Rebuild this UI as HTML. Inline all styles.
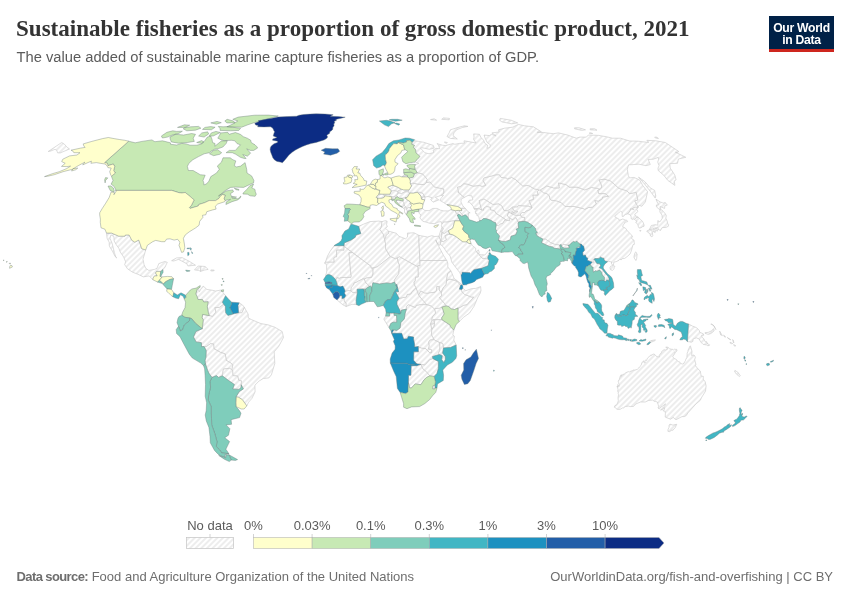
<!DOCTYPE html>
<html><head><meta charset="utf-8"><title>Sustainable fisheries as a proportion of gross domestic product, 2021</title>
<style>
html,body{margin:0;padding:0;background:#fff;}
body{width:850px;height:600px;position:relative;overflow:hidden;font-family:"Liberation Sans",sans-serif;}
#title{position:absolute;left:16px;top:14.1px;margin:0;font-family:"Liberation Serif",serif;font-weight:bold;font-size:23.7px;line-height:28px;color:#333;white-space:nowrap;transform-origin:0 50%;transform:scaleX(0.973);}
#sub{position:absolute;left:16.5px;top:47.3px;margin:0;font-size:14.73px;line-height:20px;color:#5b5b5b;white-space:nowrap;transform-origin:0 50%;}
#logo{position:absolute;left:769px;top:16px;width:65px;height:33px;background:#002147;border-bottom:3px solid #ce261e;color:#fff;font-weight:bold;font-size:12.2px;line-height:12px;text-align:center;letter-spacing:-0.3px;}
#logo span{display:block;}
#logo span:first-child{margin-top:5.5px;}
#src{position:absolute;left:16.5px;top:568.7px;font-size:13px;line-height:16px;color:#6e6e6e;white-space:nowrap;transform-origin:0 50%;}
#src b{font-weight:bold;letter-spacing:-0.6px;}
#url{position:absolute;right:17px;top:568.7px;font-size:13px;line-height:16px;color:#6e6e6e;white-space:nowrap;transform-origin:100% 50%;}
svg{position:absolute;left:0;top:0;}
svg text{font-family:"Liberation Sans",sans-serif;font-size:13px;fill:#5b5b5b;}
</style></head><body>
<h1 id="title">Sustainable fisheries as a proportion of gross domestic product, 2021</h1>
<p id="sub">The value added of sustainable marine capture fisheries as a proportion of GDP.</p>
<div id="logo"><span>Our World</span><span>in Data</span></div>
<div id="src"><b>Data source:</b> Food and Agriculture Organization of the United Nations</div>
<div id="url">OurWorldinData.org/fish-and-overfishing | CC BY</div>
<svg width="850" height="600" viewBox="0 0 850 600">
<defs><pattern id="h" width="4" height="4" patternUnits="userSpaceOnUse" patternTransform="rotate(45)"><rect width="4" height="4" fill="#fff"/><line x1="2" y1="0" x2="2" y2="4" stroke="#ccc" stroke-width="0.7"/></pattern></defs>
<g id="nodata" fill="url(#h)" stroke="#c8c8c8" stroke-width="0.6" stroke-linejoin="round">
<path d="M334.1 245.7L344.1 245.7L344.0 250.0L336.6 250.0L336.5 256.6L334.2 257.9L334.1 262.3L325.1 262.3L324.9 263.6L327.5 256.0L330.1 251.3Z"/>
<path d="M358.7 226.3L363.5 224.2L370.0 221.6L378.6 221.1L382.0 221.6L381.3 227.3L379.9 229.4L383.3 234.1L384.5 238.8L385.5 243.5L385.6 248.7L390.3 256.6L377.1 267.0L371.0 268.3L370.8 266.2L366.2 262.8L352.7 252.6L344.1 246.6L344.2 243.0L351.3 239.9L355.3 237.2L355.8 235.2L360.9 233.6L359.8 230.5Z"/>
<path d="M382.0 221.6L385.5 220.6L387.2 221.3L386.5 224.7L387.4 226.5L385.5 228.4L388.7 231.2L388.8 233.3L386.2 235.2L385.6 238.3L384.5 238.8L383.3 234.1L379.9 229.4L381.3 227.3Z"/>
<path d="M388.7 231.2L396.4 233.3L398.8 236.2L405.5 238.8L407.6 237.0L407.4 233.1L414.0 232.8L419.0 235.4L419.0 241.7L419.9 260.5L420.1 265.7L417.9 265.7L417.9 267.0L399.5 256.8L397.3 257.9L395.5 258.9L390.3 256.6L385.6 248.7L385.5 243.5L384.5 238.8L385.6 238.3L386.2 235.2L388.8 233.3Z"/>
<path d="M419.0 235.4L427.5 237.0L431.8 235.7L434.7 236.5L438.9 236.2L440.9 240.9L439.9 245.3L437.3 243.5L435.7 239.9L438.1 245.1L443.6 255.5L446.8 260.5L419.9 260.5L419.0 241.7Z"/>
<path d="M419.9 260.5L446.8 260.5L447.8 263.1L447.8 267.0L451.0 270.9L447.7 273.5L446.8 278.7L446.7 280.3L446.1 284.8L443.7 287.1L442.2 290.2L441.3 293.1L439.2 290.0L439.1 286.1L438.4 286.6L436.8 286.6L436.5 290.5L435.1 292.3L430.1 292.8L427.8 293.4L424.4 293.1L420.9 291.0L418.6 295.2L417.4 291.8L416.0 287.9L414.3 284.8L413.8 281.9L414.9 281.4L415.7 276.9L418.2 276.9L417.9 267.0L417.9 265.7L420.1 265.7Z"/>
<path d="M418.6 295.2L420.9 291.0L424.4 293.1L427.8 293.4L430.1 292.8L435.1 292.3L436.5 290.5L436.8 286.6L438.4 286.6L439.1 286.1L439.2 290.0L441.3 293.1L441.9 295.7L439.4 297.5L444.8 303.8L446.2 305.9L441.8 307.1L439.5 308.3L434.9 308.6L434.5 309.2L431.4 306.2L426.6 304.6L421.7 299.1Z"/>
<path d="M446.7 280.3L450.0 279.0L452.8 279.8L457.0 281.1L460.6 285.3L459.4 289.2L461.9 289.4L461.5 290.8L463.4 293.4L464.6 294.4L471.5 297.0L473.8 297.0L467.1 304.8L463.7 305.4L460.3 307.4L458.0 308.0L454.5 309.5L451.3 308.9L448.5 306.5L446.2 305.9L444.8 303.8L439.4 297.5L441.9 295.7L441.3 293.1L442.2 290.2L443.7 287.1L446.1 284.8Z"/>
<path d="M446.7 280.3L446.8 278.7L447.7 273.5L451.0 270.9L454.1 278.5L457.7 281.1L462.2 284.8L460.6 285.3L457.0 281.1L452.8 279.8L450.0 279.0Z"/>
<path d="M461.9 289.4L462.8 287.9L465.6 290.8L471.3 288.7L475.8 288.4L480.6 286.6L481.0 290.5L480.2 293.4L478.0 297.0L474.1 306.2L469.5 313.1L463.8 317.1L459.4 321.4L458.0 319.3L458.0 308.0L460.3 307.4L463.7 305.4L467.1 304.8L473.8 297.0L471.5 297.0L464.6 294.4L463.4 293.4L461.5 290.8Z"/>
<path d="M434.5 309.2L434.9 308.6L439.5 308.3L441.8 307.1L443.0 309.8L444.2 313.9L443.0 315.9L441.7 317.8L441.9 319.7L433.8 319.7L431.7 320.6L431.8 318.7L432.2 316.9L435.6 313.1Z"/>
<path d="M433.8 319.7L441.9 319.7L450.1 325.1L450.4 326.6L453.8 330.1L452.8 334.9L454.4 336.2L453.8 340.1L456.2 345.0L450.6 347.4L443.5 347.9L442.7 343.5L439.3 342.4L434.7 340.3L434.1 339.6L431.4 334.9L431.7 329.6L433.8 326.6L434.5 323.3Z"/>
<path d="M431.7 320.6L433.8 319.7L434.5 323.3L432.4 324.2L430.3 323.9Z"/>
<path d="M430.3 323.9L432.4 324.2L434.5 323.3L433.8 326.6L431.7 329.6L430.8 325.1Z"/>
<path d="M391.6 333.3L392.0 333.0L393.7 329.9L396.7 330.4L400.1 328.1L400.8 322.7L404.3 318.9L405.2 313.1L406.4 309.2L406.3 306.5L408.4 304.6L415.3 307.4L416.2 305.4L419.9 304.6L421.8 304.6L426.6 304.6L431.4 306.2L434.5 309.2L435.6 313.1L432.2 316.9L431.8 318.7L431.7 320.6L430.3 323.9L430.8 325.1L431.7 329.6L431.4 334.9L434.1 339.6L429.9 340.1L428.7 342.2L429.3 345.8L428.6 349.0L431.8 349.7L431.7 352.9L429.8 352.9L425.8 348.7L421.5 348.2L419.4 347.4L418.3 346.4L414.6 347.1L414.5 343.7L413.6 339.3L413.6 337.0L408.4 336.2L407.2 338.8L403.7 339.0L401.7 333.3L393.4 333.3Z"/>
<path d="M408.4 382.6L408.6 375.3L410.9 375.3L411.2 365.7L416.9 365.7L418.7 365.1L420.8 364.4L422.9 368.8L426.2 371.4L429.8 375.8L426.6 377.4L424.0 379.8L420.9 384.7L415.1 383.9L411.5 387.9L409.7 387.9Z"/>
<path d="M421.0 364.4L424.9 364.8L429.4 359.7L432.8 358.6L434.9 359.7L438.4 361.5L438.3 368.8L436.9 373.5L434.1 376.4L429.8 375.8L426.2 371.4L422.9 368.8Z"/>
<path d="M413.6 360.2L413.8 351.8L418.4 351.8L418.3 346.4L419.4 347.4L421.5 348.2L425.8 348.7L429.8 352.9L431.7 352.9L431.8 349.7L428.6 349.0L429.3 345.8L428.7 342.2L429.9 340.1L434.1 339.6L434.7 340.3L439.3 342.4L439.9 346.1L439.8 350.5L438.3 353.4L439.4 354.4L432.5 356.5L432.8 358.6L429.4 359.7L424.9 364.8L421.0 364.4L416.7 363.8Z"/>
<path d="M439.3 342.4L442.7 343.5L443.5 347.9L442.6 353.1L445.3 356.5L445.3 359.7L443.8 362.5L441.7 359.7L442.3 355.7L439.4 354.4L438.3 353.4L439.8 350.5L439.9 346.1Z"/>
<path d="M423.3 395.2L426.8 392.8L428.7 394.9L426.5 397.5L424.3 397.5Z"/>
<path d="M432.9 385.8L434.9 385.2L435.2 387.9L434.9 388.9L432.7 388.9Z"/>
<path d="M324.9 263.1L325.4 262.2L334.3 262.2L333.9 258.5L334.5 257.1L336.6 256.9L336.7 250.2L344.0 250.3L344.1 246.4L352.5 252.7L349.0 252.7L350.0 264.0L351.0 275.3L351.4 275.6L350.9 277.4L341.7 277.5L339.2 278.4L337.6 277.7L336.9 277.7L336.5 279.3L335.7 279.7L334.2 278.0L332.9 276.0L331.4 275.4L329.0 274.6L326.8 274.9L326.0 275.8L325.8 274.4L326.5 273.1L326.8 270.6L326.6 268.0L326.6 265.5L326.1 264.2Z"/>
<path d="M352.5 252.7L366.2 262.8L370.8 266.2L371.0 268.3L373.0 268.0L373.1 274.0L371.7 277.4L366.7 278.0L364.4 279.0L362.8 279.0L358.9 280.8L356.9 282.1L354.3 282.9L353.4 285.3L351.4 287.1L350.9 290.8L349.3 290.5L345.1 291.3L344.5 289.2L342.9 286.1L340.1 286.8L337.2 285.5L337.2 284.0L335.7 279.7L336.5 279.3L336.9 277.7L339.2 278.4L341.7 277.5L350.9 277.4L351.4 275.6L351.0 275.3L350.0 264.0L349.0 252.7Z"/>
<path d="M337.0 299.9L339.1 297.5L339.8 295.7L342.1 295.7L341.9 298.6L344.2 298.1L344.4 301.5L346.2 302.8L346.2 306.5L342.8 304.8Z"/>
<path d="M346.2 306.5L346.2 302.8L344.4 301.5L344.2 298.1L345.8 295.7L344.4 293.1L345.1 291.3L349.3 290.5L350.9 290.8L352.7 292.3L357.1 292.8L357.3 293.1L356.1 300.2L357.1 304.8L356.4 304.6L352.0 304.3Z"/>
<path d="M350.9 290.8L351.4 287.1L353.4 285.3L354.3 282.9L356.9 282.1L358.9 280.8L362.8 279.0L364.4 279.0L365.8 282.9L368.5 285.0L369.0 286.8L365.6 289.2L363.3 288.9L357.1 289.2L357.1 292.8L352.7 292.3Z"/>
<path d="M373.1 274.0L373.0 268.0L377.1 267.0L390.3 256.6L395.5 258.9L397.3 257.9L398.5 263.1L399.5 264.9L398.8 273.8L394.3 280.1L394.6 282.1L391.0 283.4L386.4 282.9L379.5 284.0L372.9 282.7L371.8 287.4L370.1 285.8L369.0 286.8L368.5 285.0L365.8 282.9L364.4 279.0L366.7 278.0L371.7 277.4Z"/>
<path d="M385.6 316.1L389.6 316.1L389.5 313.1L393.9 313.1L394.2 315.4L396.5 315.4L396.7 318.7L396.7 322.2L393.0 322.2L390.7 323.6L389.1 327.8L384.9 320.9L383.8 319.1Z"/>
<path d="M396.9 301.7L399.1 298.3L406.3 297.0L407.1 294.4L410.4 294.1L413.3 290.2L416.0 287.9L417.4 291.8L418.6 295.2L421.7 299.1L426.6 304.6L421.8 304.6L419.9 304.6L416.2 305.4L415.3 307.4L408.4 304.6L406.3 306.5L406.4 309.2L401.5 310.1L400.8 313.1L400.1 310.7L397.1 304.8Z"/>
<path d="M394.3 280.1L398.8 273.8L399.5 264.9L398.5 263.1L397.3 257.9L399.5 256.8L417.9 267.0L418.2 276.9L415.7 276.9L414.9 281.4L413.8 281.9L414.3 284.8L416.0 287.9L413.3 290.2L410.4 294.1L407.1 294.4L406.3 297.0L399.1 298.3L395.6 291.8L398.6 291.8L396.7 284.2L396.0 285.3L394.6 282.1Z"/>
<path d="M520.6 215.1L520.4 213.8L522.1 212.5L524.7 212.5L526.1 210.9L528.7 210.4L532.0 207.8L531.3 206.0L528.8 200.6L533.5 199.3L532.7 195.0L538.2 195.0L537.1 191.9L539.2 189.9L540.2 189.9L543.5 192.7L547.0 193.7L549.4 195.8L549.9 198.8L551.3 200.1L556.8 200.9L561.4 202.7L565.2 206.5L574.6 206.5L583.4 208.6L584.8 209.4L588.1 207.6L592.5 207.1L595.3 204.7L596.3 204.0L594.6 200.4L598.3 201.1L602.2 198.8L602.6 197.0L608.5 196.3L605.2 193.7L601.9 193.7L598.7 193.7L597.7 190.2L600.1 189.2L601.8 187.1L600.7 183.6L598.9 179.9L604.2 179.1L610.5 180.9L619.0 188.4L626.7 190.7L629.8 193.7L636.2 192.2L638.0 200.1L634.8 200.9L637.4 205.8L637.9 207.6L637.5 207.3L635.4 207.3L632.7 208.4L633.8 209.6L630.6 208.9L630.2 210.7L627.8 213.8L625.2 214.6L623.3 216.4L622.2 216.4L622.1 212.2L620.7 211.2L619.4 212.0L617.8 213.8L615.3 215.6L614.8 216.9L618.8 219.0L619.3 220.3L622.8 219.0L625.2 220.0L626.8 220.2L627.7 221.6L624.9 222.2L624.5 223.7L623.1 225.0L622.7 226.8L625.4 228.1L627.3 230.7L629.5 233.1L631.8 235.2L632.5 237.1L631.3 237.8L632.4 239.3L634.0 240.1L634.2 242.2L634.4 244.3L633.1 244.6L632.3 247.3L631.4 250.8L630.0 254.0L627.5 256.3L624.7 258.4L622.2 258.7L621.1 260.0L620.1 259.2L619.0 260.3L616.1 261.7L613.9 262.0L613.4 264.9L612.3 264.9L611.3 263.1L611.7 262.0L608.5 261.3L607.6 261.7L605.2 261.0L604.0 260.0L604.0 258.4L601.9 257.9L600.6 257.0L599.0 258.4L596.8 258.6L595.0 258.6L594.0 259.2L593.2 259.7L593.4 262.6L592.2 262.0L590.3 261.5L587.4 260.2L587.7 258.1L586.3 257.6L585.4 255.0L583.0 255.5L582.7 252.4L584.5 250.3L584.1 248.2L583.6 246.1L582.4 245.6L581.3 244.0L580.0 244.0L578.1 242.7L576.6 240.9L575.3 242.2L573.4 241.4L571.1 243.2L569.5 245.1L567.8 245.3L563.1 244.3L561.6 246.6L561.2 244.6L559.7 245.1L554.5 244.3L550.6 242.7L548.2 240.9L545.6 239.3L542.9 239.1L539.4 237.2L536.9 235.7L535.7 232.8L537.3 233.1L537.0 231.8L535.8 230.5L535.5 228.4L532.3 225.2L527.3 222.1L524.3 221.3L524.8 220.8L524.5 217.4L521.7 217.4ZM610.0 267.3L610.7 266.2L613.3 265.4L615.0 266.5L614.3 267.5L613.9 269.1L612.3 270.4L610.3 269.6Z"/>
<path d="M636.7 258.4L637.1 254.2L635.9 251.9L635.0 252.6L634.0 256.3L634.1 257.9L635.9 260.5Z"/>
<path d="M540.2 189.9L543.6 187.9L546.6 185.9L553.6 187.9L559.2 187.9L558.4 182.9L566.1 184.6L569.2 187.1L577.2 187.1L584.9 189.9L591.3 187.4L597.4 188.4L600.1 189.2L597.7 190.2L598.7 193.7L601.9 193.7L605.2 193.7L608.5 196.3L602.6 197.0L602.2 198.8L598.3 201.1L594.6 200.4L596.3 204.0L595.3 204.7L592.5 207.1L588.1 207.6L584.8 209.4L583.4 208.6L574.6 206.5L565.2 206.5L561.4 202.7L556.8 200.9L551.3 200.1L549.9 198.8L549.4 195.8L547.0 193.7L543.5 192.7Z"/>
<path d="M627.8 213.8L630.2 210.7L630.6 208.9L633.8 209.6L632.7 208.4L635.4 207.3L637.5 207.3L637.9 207.6L636.8 209.4L637.9 211.2L636.5 213.0L634.7 214.1L635.3 215.6L638.1 217.2L635.9 217.9L634.6 219.4L633.4 219.0L632.7 219.5L631.0 218.5L631.3 216.9L629.9 214.6Z"/>
<path d="M634.6 219.4L635.9 217.9L638.1 217.2L641.5 220.3L642.9 221.9L644.1 225.0L644.0 226.3L642.3 226.8L641.0 227.8L639.2 228.1L638.4 226.8L637.9 224.7L635.7 222.1L637.2 221.6ZM639.6 230.7L641.0 230.5L640.7 231.2Z"/>
<path d="M661.8 209.9L665.1 213.5L666.3 215.6L665.8 218.2L667.2 221.1L667.5 223.2L668.6 224.5L668.3 226.3L666.0 227.4L662.2 227.6L660.5 230.5L658.5 229.5L657.7 227.6L654.1 228.2L652.1 229.4L649.5 229.4L650.5 227.2L651.3 225.5L655.3 224.7L657.8 225.2L657.8 220.6L659.9 221.9L661.7 219.2L662.3 218.2L662.0 215.1L659.9 212.1L659.8 210.4L661.0 209.9ZM659.3 209.6L656.5 206.8L656.4 205.0L658.5 204.7L656.7 201.1L656.0 199.2L660.1 201.9L662.3 202.7L664.2 203.3L664.9 202.2L667.3 205.1L664.8 205.8L664.6 208.4L660.1 206.5L660.8 209.4ZM648.3 232.8L646.7 231.0L648.4 230.2L649.3 229.4L652.1 231.0L652.8 235.8L651.9 236.9L650.4 235.9L650.0 233.6ZM653.6 231.8L653.0 230.6L653.5 229.0L654.9 229.3L655.3 228.2L657.2 228.8L657.9 229.6L657.3 231.2L656.0 230.4L655.2 231.0L655.2 232.5Z"/>
<path d="M376.0 197.3L379.0 194.0L383.0 194.2L384.7 195.8L384.2 197.3L382.0 198.3L377.9 198.3Z"/>
<path d="M383.0 194.2L384.9 194.2L390.0 194.2L391.3 190.9L393.7 190.4L397.8 191.2L398.2 193.0L396.4 195.8L393.2 197.0L388.7 196.3L384.7 195.8Z"/>
<path d="M387.7 187.1L391.9 185.4L393.3 185.4L397.5 187.1L401.3 189.2L397.8 191.2L393.7 190.4L391.3 190.9Z"/>
<path d="M397.8 191.2L401.3 189.2L403.7 189.9L408.8 190.2L408.2 191.9L405.0 191.9L401.7 193.5L398.2 193.0Z"/>
<path d="M396.4 195.8L398.2 193.0L401.7 193.5L405.0 191.9L408.2 191.9L410.0 193.0L407.0 197.6L405.0 197.8L402.1 198.3L399.5 198.3L397.3 196.8Z"/>
<path d="M391.6 196.8L393.2 197.0L396.4 195.8L397.3 196.8L395.5 197.6L395.0 199.3L391.5 199.3Z"/>
<path d="M396.1 200.1L398.4 200.1L402.8 200.9L403.8 202.4L404.4 205.3L402.3 206.8L400.3 205.8L397.1 202.7L396.2 201.4Z"/>
<path d="M402.1 198.3L405.0 197.8L407.7 200.1L410.1 201.7L410.1 203.2L411.5 205.3L410.5 207.6L408.6 207.6L406.8 208.6L405.4 206.8L404.4 205.3L403.8 202.4L402.8 200.9L403.5 200.1Z"/>
<path d="M402.3 207.3L402.3 206.8L404.4 205.3L405.4 206.8L404.1 208.6Z"/>
<path d="M404.1 208.6L405.4 206.8L406.8 208.6L406.8 210.2L407.9 211.2L407.5 213.3L406.1 214.3L404.4 212.2L404.6 209.9Z"/>
<path d="M406.8 208.6L408.6 207.6L410.5 207.6L412.0 210.2L410.0 210.7L407.9 211.2L406.8 210.2Z"/>
<path d="M417.4 192.2L420.2 192.2L422.8 193.2L425.0 197.0L422.7 197.0L421.6 199.3L420.9 196.0Z"/>
<path d="M408.2 191.9L408.8 190.2L409.2 189.9L411.5 185.9L410.2 184.1L412.8 183.1L417.9 184.1L424.0 184.6L426.2 182.6L430.0 181.9L434.3 186.9L439.6 188.1L443.8 188.9L444.0 193.0L441.4 195.3L438.6 196.3L435.3 197.3L438.8 199.9L433.0 202.2L430.7 199.6L432.3 197.8L428.0 196.5L425.0 197.0L424.8 199.9L421.6 199.3L422.7 197.0L425.0 197.0L422.8 193.2L420.2 192.2L417.4 192.2L413.2 193.2L410.0 193.0Z"/>
<path d="M410.2 184.1L410.4 181.1L409.2 178.1L413.3 177.1L414.4 173.7L417.3 172.7L422.7 173.9L427.3 179.4L426.2 182.6L424.0 184.6L417.9 184.1L412.8 183.1Z"/>
<path d="M418.8 211.7L418.9 209.1L422.4 208.4L424.7 210.4L429.0 210.7L432.9 208.4L437.1 208.4L440.5 210.2L443.8 210.9L448.1 210.9L451.0 209.6L455.4 210.7L456.3 213.3L458.9 214.3L457.3 215.1L458.6 217.9L460.0 220.8L454.8 220.8L451.8 221.1L447.2 222.1L443.4 222.1L442.7 223.4L441.9 224.2L441.1 221.6L438.0 222.1L434.9 223.7L429.4 223.2L426.1 222.1L422.8 221.3L419.9 217.9L421.0 214.8L419.2 213.5Z"/>
<path d="M441.9 224.2L442.7 223.4L443.4 222.1L447.2 222.1L451.8 221.1L454.8 220.8L453.1 227.1L452.8 228.1L448.4 230.7L444.3 233.6L441.8 232.5L441.8 231.0L443.3 228.6L441.9 227.6L441.4 225.5Z"/>
<path d="M440.4 231.5L441.8 231.0L443.3 228.6L441.9 227.6Z"/>
<path d="M438.9 236.2L440.9 240.9L441.7 235.7L441.8 232.5L441.8 231.0L440.4 231.5Z"/>
<path d="M440.9 240.9L443.4 241.7L446.5 239.6L445.0 235.7L449.2 234.1L449.6 233.6L448.4 230.7L444.3 233.6L441.8 232.5L441.7 235.7Z"/>
<path d="M440.9 241.2L443.4 241.7L446.5 239.6L445.0 235.7L449.2 234.1L452.4 234.6L456.1 236.7L462.7 241.7L466.7 241.9L469.1 243.5L471.1 243.5L472.3 245.6L475.7 248.2L475.7 250.3L477.5 253.3L478.9 253.7L479.5 255.0L482.0 258.1L487.7 258.9L489.2 260.5L488.1 265.7L481.5 268.3L474.7 269.4L473.0 270.4L470.5 273.5L469.8 272.7L466.3 272.5L462.2 272.2L461.9 274.3L461.0 275.1L459.7 272.5L457.0 269.1L451.9 262.3L450.1 256.0L446.9 252.4L442.9 246.4L440.5 244.6Z"/>
<path d="M479.5 254.7L481.7 254.7L484.9 255.0L489.1 250.0L490.1 252.9L489.0 252.9L489.4 255.0L488.3 255.5L487.8 257.6L487.9 258.6L487.7 258.9L482.0 258.1L479.5 255.0Z"/>
<path d="M477.5 253.3L477.1 251.3L478.3 249.8L479.2 252.1L478.9 253.7Z"/>
<path d="M455.4 210.7L458.5 210.4L462.6 214.8L462.9 216.4L461.8 216.4L458.9 214.3L456.3 213.3Z"/>
<path d="M458.5 210.4L461.8 210.7L461.1 208.6L465.5 208.6L468.4 212.0L470.2 212.8L468.6 213.0L468.2 217.7L466.9 216.1L465.1 214.8L462.9 216.4L462.6 214.8Z"/>
<path d="M457.6 191.9L457.4 187.1L460.6 186.4L463.9 183.6L467.4 184.1L473.0 186.1L479.7 185.4L482.1 186.4L485.7 185.4L482.9 180.4L483.9 177.9L490.0 176.4L496.0 174.7L499.5 174.7L501.1 177.4L506.2 177.9L507.6 178.9L511.8 177.4L515.6 179.6L522.7 185.9L528.4 185.4L534.5 188.9L539.2 189.9L537.1 191.9L538.2 195.0L532.7 195.0L533.5 199.3L528.8 200.6L531.3 206.0L532.0 207.8L529.1 206.3L522.5 206.0L518.5 205.3L517.6 207.1L512.4 207.1L512.3 207.6L509.1 209.9L507.3 210.9L503.9 210.4L501.7 205.8L498.7 204.0L492.8 204.5L484.0 199.1L479.2 200.6L481.7 210.2L478.5 208.4L474.0 208.9L473.2 206.3L469.2 201.9L467.9 202.4L469.4 200.1L472.8 199.9L471.8 195.8L468.0 195.5L464.4 197.3L462.8 196.5L458.7 192.2Z"/>
<path d="M481.7 210.2L479.2 200.6L484.0 199.1L492.8 204.5L498.7 204.0L501.7 205.8L503.9 210.4L507.3 210.9L509.1 209.9L512.3 207.6L514.0 210.7L518.0 211.5L516.0 213.3L513.4 213.0L512.6 211.2L510.1 213.3L508.8 211.7L507.4 215.9L510.1 218.2L509.5 220.8L506.6 220.3L500.7 216.4L496.1 213.5L494.3 210.7L490.3 209.9L490.5 207.6L486.2 206.3L484.9 207.8L483.3 208.9L483.8 210.2Z"/>
<path d="M474.0 208.9L478.5 208.4L481.7 210.2L483.8 210.2L483.3 208.9L484.9 207.8L486.2 206.3L490.5 207.6L490.3 209.9L494.3 210.7L496.1 213.5L500.7 216.4L506.6 220.3L504.8 220.0L503.0 223.2L500.4 224.2L498.5 225.8L496.2 225.0L495.5 222.6L494.1 222.4L490.9 220.3L486.5 218.7L483.6 218.5L481.4 220.3L479.5 220.6L478.7 216.4L476.7 215.3L477.0 213.5L475.5 213.5L475.3 210.9L477.4 209.6Z"/>
<path d="M496.2 225.0L498.5 225.8L500.4 224.2L503.0 223.2L504.8 220.0L509.5 220.8L510.1 218.2L512.9 219.8L515.1 217.4L517.0 219.0L517.8 221.9L524.8 220.8L524.3 221.3L518.8 221.9L518.1 223.2L518.7 228.1L516.1 229.2L517.3 231.0L515.9 234.6L514.5 235.2L511.0 236.2L510.3 239.9L505.7 241.4L502.2 241.4L498.4 240.1L499.5 235.9L496.1 232.0L496.7 230.5L495.5 229.2Z"/>
<path d="M507.4 215.9L510.1 218.2L512.9 219.8L515.1 217.4L517.0 219.0L517.8 221.9L524.8 220.8L524.5 217.4L521.7 217.4L520.6 215.1L516.6 215.3L513.6 214.6L511.1 213.3L513.4 213.0L512.6 211.2L510.1 213.3L508.8 211.7Z"/>
<path d="M512.3 207.6L512.4 207.1L517.6 207.1L518.5 205.3L522.5 206.0L529.1 206.3L532.0 207.8L528.7 210.4L526.1 210.9L524.7 212.5L522.1 212.5L520.4 213.8L520.6 215.1L516.6 215.3L513.6 214.6L511.1 213.3L513.4 213.0L516.0 213.3L518.0 211.5L514.0 210.7Z"/>
<path d="M106.5 233.1L111.5 233.1L118.8 236.2L125.0 236.2L125.4 235.0L129.1 235.0L131.9 240.4L134.8 242.2L138.7 240.1L140.0 243.5L141.7 248.7L145.7 250.0L143.0 259.2L144.0 264.4L145.7 268.3L148.8 270.4L154.6 269.4L157.0 268.3L158.8 263.6L164.7 261.5L167.3 262.3L165.1 267.0L163.0 269.6L160.8 271.4L156.6 271.4L155.5 273.0L157.2 275.9L154.5 275.9L153.1 278.0L152.9 279.8L149.2 275.9L143.4 276.9L138.0 274.3L132.6 272.2L127.5 268.8L124.7 264.7L125.6 261.8L123.7 257.1L120.2 251.9L118.8 248.2L116.3 244.8L114.1 240.9L113.9 236.5L110.9 234.9L110.0 238.3L112.2 243.5L114.4 252.6L115.8 257.1L116.8 257.9L115.2 256.6L112.5 251.3L109.3 246.1L109.2 242.2L107.1 238.3Z"/>
<path d="M171.6 260.7L176.5 257.9L182.2 257.6L189.6 261.5L195.5 265.2L187.9 266.0L187.0 263.9L181.7 261.0L178.5 259.4L173.8 261.0Z"/>
<path d="M194.5 269.9L198.1 266.0L201.0 266.2L200.5 271.4L198.8 270.4Z"/>
<path d="M201.0 266.2L205.1 266.5L208.2 269.4L204.5 270.1L200.5 271.4Z"/>
<path d="M210.9 269.9L214.3 270.1L213.5 271.0L210.8 270.9Z"/>
<path d="M690.4 345.8L692.0 351.3L691.6 355.5L694.0 355.0L695.4 357.1L694.7 359.7L695.9 364.4L695.4 365.7L697.9 368.8L700.3 371.1L701.2 376.1L703.4 376.4L703.2 379.2L705.2 381.8L706.1 386.0L705.5 391.2L701.8 397.1L700.2 400.4L695.9 404.0L687.9 412.9L686.3 415.5L684.4 416.6L682.0 416.6L676.0 419.7L673.8 418.1L673.4 417.3L670.5 419.2L665.2 417.1L665.4 413.4L665.0 411.1L663.0 410.8L664.3 409.5L664.7 407.7L662.7 409.5L660.5 410.0L662.4 408.5L663.5 406.9L664.9 405.6L665.5 403.8L662.8 406.0L661.1 406.9L659.3 409.0L658.0 408.0L658.6 406.5L658.2 404.6L657.5 403.6L658.2 403.0L656.0 401.4L654.4 401.4L652.7 400.1L648.7 400.4L645.2 402.0L640.6 402.0L635.6 404.0L634.7 405.3L633.5 406.4L630.2 406.6L628.5 406.1L625.2 406.6L623.4 408.0L622.8 407.8L620.0 409.4L617.0 409.3L615.3 407.7L614.3 407.2L614.9 405.6L616.7 404.8L618.0 402.0L618.3 400.4L618.0 397.8L618.5 394.8L618.1 393.1L618.3 392.3L617.7 391.2L618.0 389.2L617.3 387.1L617.1 386.0L617.9 387.2L617.6 384.7L618.5 385.5L618.9 386.5L619.3 385.2L618.6 383.2L618.6 382.4L618.3 381.6L618.8 380.0L619.4 379.4L620.1 376.6L621.3 374.7L621.0 376.6L622.3 374.8L624.3 374.0L625.5 372.9L627.5 371.9L628.7 371.7L629.1 372.1L631.0 371.1L632.5 370.8L633.0 370.1L633.6 370.0L634.9 370.1L637.4 369.3L638.8 368.0L639.7 366.7L641.1 365.4L641.8 362.9L643.7 360.7L644.3 363.0L645.4 362.5L644.8 361.2L645.7 359.9L646.6 360.5L647.2 358.5L648.7 357.2L649.4 356.2L650.6 355.7L650.7 355.0L651.7 355.4L651.8 354.7L652.9 354.3L654.0 354.0L655.5 355.2L656.6 356.7L658.0 356.7L659.4 357.0L659.2 355.5L660.5 353.5L661.7 352.8L661.4 352.1L662.6 350.6L664.1 349.7L665.2 350.0L667.2 349.5L667.3 348.2L665.7 347.3L667.0 347.0L668.4 347.6L669.5 348.7L671.4 349.3L672.1 349.1L673.4 349.9L674.8 349.1L675.7 349.4L676.2 348.9L677.1 350.1L676.4 351.5L675.4 352.6L674.5 352.7L674.7 353.7L673.8 355.0L672.8 356.3L672.8 357.1L674.4 358.5L676.0 359.3L677.0 360.2L678.4 361.8L679.1 361.8L680.1 362.4L680.3 363.2L682.3 364.1L684.0 363.2L684.7 361.8L685.4 360.7L685.9 359.2L687.0 357.2L686.9 355.9L687.2 355.1L687.1 353.7L687.7 351.7L688.2 351.2L688.0 350.3L688.7 348.9L689.3 347.5L689.5 346.7ZM669.9 424.1L672.9 425.1L676.7 424.3L675.2 427.7L672.6 430.5L672.3 429.8L669.6 431.6L667.9 431.3L668.1 429.3L669.0 427.4L669.1 425.4Z"/>
<path d="M734.9 370.4L737.8 372.2L740.3 375.8L739.3 376.4L736.3 374.0L734.6 371.4Z"/>
<path d="M723.6 335.1L725.7 337.0L724.6 337.0ZM727.3 337.5L730.8 339.8L729.0 339.0ZM730.1 342.2L732.7 343.5L731.3 343.7L730.2 343.2ZM732.6 339.6L733.3 342.2L733.9 343.0L733.3 340.1ZM733.7 344.5L735.8 345.8L734.4 346.1Z"/>
<path d="M414.7 140.8L418.5 141.4L423.8 142.3L433.3 145.4L434.2 148.1L429.4 149.3L422.0 147.7L420.4 148.1L424.8 152.7L429.0 153.8L433.9 152.5L433.1 150.2L436.0 148.3L439.6 148.8L438.5 144.8L436.9 143.6L442.5 145.2L445.3 145.6L452.9 143.6L454.9 144.3L459.5 143.4L464.5 143.2L464.0 140.8L470.4 141.9L476.1 143.0L473.5 139.3L474.1 137.1L473.6 133.9L479.5 134.3L480.9 137.5L483.8 140.3L484.5 143.0L487.6 145.2L486.9 148.3L489.8 147.4L490.4 144.8L487.2 142.5L485.1 138.2L484.0 135.0L489.3 135.6L491.5 134.3L496.1 136.0L491.9 132.9L499.1 132.0L498.6 129.8L504.6 128.2L512.7 127.2L518.3 124.4L524.6 125.8L533.4 126.8L541.4 131.8L537.2 132.3L543.7 132.5L553.2 133.7L558.5 132.9L567.5 135.0L576.3 138.2L579.9 137.1L586.4 137.1L588.4 135.0L598.6 135.4L607.2 136.9L612.3 138.2L620.5 138.2L629.6 141.0L638.2 141.2L648.5 142.5L646.9 140.3L655.8 140.8L665.3 142.5L678.8 151.5L677.0 152.7L675.4 152.2L685.8 157.3L678.4 159.0L677.5 163.3L669.8 163.7L670.2 168.1L673.2 172.5L674.9 175.4L676.1 179.9L674.2 180.9L674.9 185.4L667.8 180.4L663.9 175.4L658.2 170.5L658.0 168.1L659.1 165.7L657.7 162.1L658.5 159.7L658.3 157.3L653.4 159.2L648.2 159.5L650.3 164.5L646.0 165.7L638.9 164.2L628.6 164.9L627.3 169.3L628.3 175.4L629.5 177.9L633.9 177.4L639.6 179.9L642.7 185.4L647.6 191.7L646.6 196.0L645.4 201.9L641.9 206.3L639.0 205.3L637.9 207.6L637.4 205.8L634.8 200.9L638.0 200.1L636.2 192.2L629.8 193.7L626.7 190.7L619.0 188.4L610.5 180.9L604.2 179.1L598.9 179.9L600.7 183.6L601.8 187.1L600.1 189.2L597.4 188.4L591.3 187.4L584.9 189.9L577.2 187.1L569.2 187.1L566.1 184.6L558.4 182.9L559.2 187.9L553.6 187.9L546.6 185.9L543.6 187.9L540.2 189.9L539.2 189.9L534.5 188.9L528.4 185.4L522.7 185.9L515.6 179.6L511.8 177.4L507.6 178.9L506.2 177.9L501.1 177.4L499.5 174.7L496.0 174.7L490.0 176.4L483.9 177.9L482.9 180.4L485.7 185.4L482.1 186.4L479.7 185.4L473.0 186.1L467.4 184.1L463.9 183.6L460.6 186.4L457.4 187.1L458.7 192.2L457.6 191.9L462.8 196.5L464.4 197.3L461.3 199.1L460.9 201.9L462.8 205.8L465.5 208.6L461.1 208.6L457.8 206.5L454.5 206.0L451.2 205.3L446.9 204.7L443.4 202.4L439.9 200.4L440.7 198.8L441.8 197.3L443.5 195.3L441.4 195.3L444.0 193.0L443.8 188.9L439.6 188.1L434.3 186.9L430.0 181.9L426.2 182.6L427.3 179.4L422.7 173.9L417.3 172.7L415.1 169.3L414.6 166.4L415.3 164.5L418.8 163.5L415.7 162.1L414.5 162.1L417.0 159.7L419.9 156.4L417.6 154.3L415.8 152.7L415.7 149.9L413.3 147.2L414.5 145.4L411.7 144.3L412.1 142.3ZM61.7 142.5L64.3 144.1L66.8 147.0L69.5 149.0L60.3 152.9L57.6 152.9L56.8 150.4L55.0 149.3L50.6 151.1L48.2 151.5ZM401.8 176.9L404.4 174.8L407.4 175.4L407.6 176.9ZM447.0 136.5L450.4 138.4L457.3 139.0L453.0 135.6L453.9 132.9L456.6 129.8L462.6 127.4L467.9 126.4L464.4 125.8L458.0 127.4L450.4 129.8L449.1 132.9ZM501.9 121.9L511.6 123.8L517.7 122.9L511.1 120.2L500.2 118.4L499.6 120.2ZM430.5 119.6L436.6 120.2L434.2 118.8ZM441.7 119.3L449.2 119.8L449.5 118.4L443.4 117.9ZM574.6 128.8L581.8 130.4L585.5 129.8L579.1 127.8L574.5 127.8ZM589.2 133.3L592.7 133.5L589.9 132.7ZM590.2 129.8L597.0 130.2L594.7 128.8L590.0 128.8ZM655.3 138.0L658.5 138.4L656.3 137.1L654.7 137.1ZM638.5 177.1L644.8 181.6L650.3 187.9L654.7 190.4L655.8 196.0L655.2 198.1L651.6 193.0L644.6 184.1ZM444.5 141.9L447.3 142.5L446.8 143.2L444.9 142.8Z"/>
<path d="M197.2 289.2L200.1 287.1L198.6 288.7L199.4 291.8L200.7 289.2L203.2 286.1L206.9 289.4L212.1 290.2L215.5 291.0L221.3 290.0L223.4 293.1L225.6 295.7L222.4 302.2L223.7 304.3L219.5 307.4L214.9 307.7L216.0 312.2L212.5 316.5L209.3 315.7L208.4 312.8L207.3 306.8L208.2 301.7L203.8 302.0L202.5 299.6L197.9 299.4L197.1 296.5L195.8 293.9Z"/>
<path d="M239.2 302.8L242.6 305.1L244.4 307.4L242.0 312.8L238.6 312.8L238.0 305.4Z"/>
<path d="M223.7 304.3L225.3 306.2L225.7 312.8L227.9 315.4L233.3 313.9L238.6 312.8L242.0 312.8L244.4 307.4L248.2 314.2L248.2 317.9L251.7 319.7L260.9 323.6L267.9 324.8L274.8 327.2L282.2 331.5L283.5 337.5L278.6 346.6L274.2 351.8L274.8 363.6L271.4 374.8L268.9 377.9L263.3 378.5L259.0 381.1L254.9 385.2L255.1 391.8L252.0 398.3L248.6 402.2L246.8 405.9L242.3 399.6L238.6 397.3L236.1 396.7L239.3 391.5L243.4 388.9L241.2 384.7L241.4 380.8L238.7 380.3L237.6 376.1L232.8 375.6L232.6 370.1L231.6 369.6L232.8 364.9L230.9 363.1L226.3 360.4L225.2 353.9L220.5 352.4L213.9 348.7L213.6 344.0L210.6 343.7L206.4 346.6L204.1 346.6L201.6 346.6L201.4 342.7L196.1 341.9L193.5 337.0L195.9 331.5L202.3 328.7L203.3 319.7L202.1 317.9L202.6 314.4L209.3 315.7L212.5 316.5L216.0 312.2L214.9 307.7L219.5 307.4Z"/>
<path d="M204.1 346.6L206.4 346.6L210.6 343.7L213.6 344.0L213.9 348.7L220.5 352.4L225.2 353.9L226.3 360.4L230.9 363.1L232.8 364.9L231.6 369.6L229.5 368.3L223.4 369.1L222.3 375.8L218.6 377.4L216.4 375.6L212.0 377.4L209.4 374.0L207.7 370.6L205.4 363.6L205.1 360.2L206.0 357.1L206.2 350.5Z"/>
<path d="M222.3 375.8L223.4 369.1L229.5 368.3L231.6 369.6L232.6 370.1L232.8 375.6L237.6 376.1L238.7 380.3L241.4 380.8L241.2 384.7L241.0 387.6L239.0 389.4L232.7 388.9L234.4 384.5L228.6 380.5Z"/>
<path d="M541.5 242.7L542.9 239.1L545.6 239.3L548.2 240.9L550.6 242.7L554.5 244.3L559.7 245.1L560.5 249.0L554.1 248.2L552.5 246.9L549.3 246.4Z"/>
<path d="M561.6 246.6L563.1 244.3L567.8 245.3L568.9 246.1L569.3 247.9L564.2 248.2Z"/>
<path d="M590.1 264.7L592.2 262.0L593.4 262.6L593.2 259.7L594.0 259.2L595.5 261.3L596.9 263.6L599.7 263.7L600.9 266.0L599.7 266.7L599.1 267.5L602.1 269.1L606.3 274.6L608.2 276.4L609.0 278.2L608.9 280.8L606.8 279.8L605.8 281.6L603.9 280.6L604.4 279.5L604.4 277.2L602.3 275.1L601.7 272.5L599.7 270.1L597.6 270.9L596.3 271.2L595.5 270.7L593.5 272.2L592.9 269.9L593.1 267.0L591.6 267.0L591.1 265.4Z"/>
<path d="M650.6 342.4L649.2 341.9L651.0 340.6L655.4 339.8L655.1 340.6Z"/>
<path d="M688.5 323.9L692.3 326.0L696.6 327.7L698.1 329.2L699.3 330.6L699.6 332.2L703.3 333.8L703.8 335.2L701.6 335.4L702.0 337.2L703.9 338.9L705.1 341.7L706.5 341.6L706.3 342.7L708.0 343.2L707.3 343.7L709.6 344.8L709.2 345.5L707.7 345.7L707.2 345.0L705.2 344.7L703.0 344.3L701.4 342.7L700.2 341.2L699.2 339.0L696.3 337.8L694.3 338.6L692.9 339.4L693.0 341.3L691.1 342.3L689.8 341.8L687.5 341.7ZM704.9 332.8L708.4 332.3L711.2 331.0L713.6 328.7L714.2 330.7L712.3 332.5L710.3 333.8L708.0 334.3L705.1 333.3ZM711.3 323.9L714.2 326.0L715.9 329.6L715.3 328.7L713.3 325.1L710.8 324.2ZM719.7 331.2L721.4 334.1L722.4 335.6L720.6 334.9Z"/>
</g>
<g id="data" stroke="#6b7a7a" stroke-width="0.4" stroke-linejoin="round">
<path fill="#41b6c4" d="M351.8 224.2L358.7 226.3L359.8 230.5L360.9 233.6L355.8 235.2L355.3 237.2L351.3 239.9L344.2 243.0L344.1 245.7L334.1 245.7L334.8 245.1L338.8 242.7L341.3 240.6L342.1 238.3L341.9 235.7L344.9 231.0L348.7 228.9L350.7 224.5Z"/>
<path fill="#1d91c0" d="M460.6 285.3L462.2 284.8L462.9 286.8L462.8 287.9L461.9 289.4L459.4 289.2Z"/>
<path fill="#c7e9b4" d="M441.8 307.1L446.2 305.9L448.5 306.5L451.3 308.9L454.5 309.5L458.0 308.0L458.0 319.3L459.4 321.4L456.1 324.5L453.8 330.1L450.4 326.6L450.1 325.1L441.9 319.7L441.7 317.8L443.0 315.9L444.2 313.9L443.0 309.8Z"/>
<path fill="#1d91c0" d="M391.6 333.3L393.4 333.3L401.7 333.3L403.7 339.0L407.2 338.8L408.4 336.2L413.6 337.0L413.6 339.3L414.5 343.7L414.6 347.1L418.3 346.4L418.4 351.8L413.8 351.8L413.6 360.2L416.7 363.8L412.1 364.6L410.8 364.9L405.6 363.3L395.3 363.3L390.3 363.1L390.2 359.1L392.1 353.1L395.1 349.2L395.2 345.8L393.4 341.4L394.3 339.6L391.8 333.8ZM391.6 333.0L391.1 331.0L393.0 329.3L393.7 329.9L392.0 333.0Z"/>
<path fill="#1d91c0" d="M390.3 363.1L395.3 363.3L405.6 363.3L410.8 364.9L412.1 364.6L416.7 363.8L420.8 364.4L418.7 365.1L416.9 365.7L411.2 365.7L410.9 375.3L408.6 375.3L408.4 382.6L408.0 392.0L405.7 393.6L402.2 392.8L400.2 392.6L397.4 388.4L396.2 376.6L393.8 371.4Z"/>
<path fill="#41b6c4" d="M456.2 345.0L456.7 355.7L455.9 358.4L452.3 362.3L447.4 364.9L442.8 370.1L443.6 375.3L443.3 380.5L437.5 383.9L437.0 387.9L435.2 387.9L434.9 385.2L435.4 381.8L434.1 376.4L436.9 373.5L438.3 368.8L438.4 361.5L434.9 359.7L432.8 358.6L432.5 356.5L439.4 354.4L442.3 355.7L441.7 359.7L443.8 362.5L445.3 359.7L445.3 356.5L442.6 353.1L443.5 347.9L450.6 347.4Z"/>
<path fill="#c7e9b4" d="M400.2 392.6L402.2 392.8L405.7 393.6L408.0 392.0L408.4 382.6L409.7 387.9L411.5 387.9L415.1 383.9L420.9 384.7L424.0 379.8L426.6 377.4L429.8 375.8L434.1 376.4L435.4 381.8L434.9 385.2L432.9 385.8L432.7 388.9L434.9 388.9L435.2 387.9L437.0 387.9L435.8 392.3L432.6 395.7L429.6 399.6L424.9 403.5L419.6 406.6L411.5 406.9L407.0 408.7L403.6 407.2L403.6 403.5L401.7 397.5Z"/>
<path fill="#225ea8" d="M476.4 349.2L478.5 358.4L476.1 363.6L474.0 370.1L470.3 380.5L467.8 383.7L464.4 384.5L461.9 379.2L461.2 375.3L463.8 370.1L463.6 363.6L466.1 359.7L470.8 357.1L473.3 353.1Z"/>
<path fill="#225ea8" d="M462.5 347.7L463.2 347.7L462.9 349.0ZM465.0 349.5L465.4 349.7L465.2 350.3Z"/>
<path fill="#41b6c4" d="M493.5 370.1L494.4 370.4L493.8 371.4Z"/>
<path fill="#0c2c84" d="M491.1 329.9L491.6 329.9L491.3 330.4Z"/>
<path fill="#41b6c4" d="M326.0 275.8L326.8 274.9L329.0 274.6L331.4 275.4L334.2 278.0L335.7 279.7L337.2 284.0L337.2 285.5L332.1 285.0L328.0 285.3L325.3 285.5L325.1 283.7L329.2 283.4L331.9 283.4L331.9 282.7L329.2 281.9L325.1 282.4L323.5 279.5Z"/>
<path fill="#225ea8" d="M325.1 282.4L329.2 281.9L331.9 282.7L331.9 283.4L329.2 283.4L325.1 283.7Z"/>
<path fill="#1d91c0" d="M325.3 285.5L332.1 285.0L332.1 287.4L329.8 287.9L329.1 289.2L326.6 287.9Z"/>
<path fill="#1d91c0" d="M329.1 289.2L329.8 287.9L332.1 287.4L332.1 285.0L337.2 285.5L340.1 286.8L342.9 286.1L344.5 289.2L345.1 291.3L344.4 293.1L345.8 295.7L344.2 298.1L341.9 298.6L342.1 295.7L339.8 295.7L339.2 293.6L337.8 291.8L335.0 292.1L332.9 294.3Z"/>
<path fill="#225ea8" d="M332.9 294.3L335.0 292.1L337.8 291.8L339.2 293.6L339.8 295.7L339.1 297.5L337.0 299.9L333.8 297.5Z"/>
<path fill="#41b6c4" d="M356.4 304.6L356.1 300.2L357.3 293.1L357.1 289.2L363.3 288.9L363.5 289.2L364.4 291.0L364.4 295.7L365.1 296.2L364.7 299.9L366.3 302.0L361.2 304.3L358.9 305.7Z"/>
<path fill="#7fcdbb" d="M366.3 302.0L364.7 299.9L365.1 296.2L364.4 295.7L364.4 291.0L363.5 289.2L365.6 289.2L365.3 291.0L366.7 293.1L367.2 301.5L367.6 301.7Z"/>
<path fill="#7fcdbb" d="M367.6 301.7L367.2 301.5L366.7 293.1L365.3 291.0L365.6 289.2L366.7 287.9L369.0 286.8L370.1 285.8L371.8 287.4L371.8 291.3L369.7 295.7L369.7 301.5Z"/>
<path fill="#7fcdbb" d="M369.7 301.5L369.7 295.7L371.8 291.3L371.8 287.4L372.9 282.7L379.5 284.0L386.4 282.9L391.0 283.4L394.6 282.1L396.0 285.3L397.0 287.9L393.8 292.8L392.9 295.2L390.6 299.6L387.7 299.6L385.4 301.2L383.3 305.4L379.6 306.5L377.3 306.8L373.9 301.5Z"/>
<path fill="#41b6c4" d="M383.3 305.4L385.4 301.2L387.7 299.6L390.6 299.6L392.9 295.2L393.8 292.8L397.0 287.9L396.0 285.3L396.7 284.2L398.6 291.8L395.6 291.8L399.1 298.3L396.9 301.7L397.1 304.8L400.1 310.7L400.8 313.1L400.2 314.2L393.9 313.1L389.5 313.1L386.1 312.8L385.6 309.2Z"/>
<path fill="#7fcdbb" d="M386.1 312.8L389.5 313.1L389.6 316.1L385.6 316.1Z"/>
<path fill="#7fcdbb" d="M389.1 327.8L390.7 323.6L393.0 322.2L396.7 322.2L396.7 318.7L396.5 315.4L394.2 315.4L393.9 313.1L400.2 314.2L400.8 313.1L401.5 310.1L406.4 309.2L405.2 313.1L404.3 318.9L400.8 322.7L400.1 328.1L396.7 330.4L393.7 329.9L393.0 329.3L391.1 331.0Z"/>
<path fill="#225ea8" d="M307.8 278.7L309.9 278.2L309.4 279.0ZM306.1 273.5L306.8 273.3L306.6 274.0ZM311.1 275.6L311.8 275.6L311.5 276.1Z"/>
<path fill="#225ea8" d="M378.5 317.3L379.2 317.5L378.7 317.9Z"/>
<path fill="#225ea8" d="M321.2 150.2L325.5 148.3L332.4 148.8L338.1 148.8L339.7 151.3L337.0 153.2L330.5 155.2L323.6 154.1L324.9 152.0Z"/>
<path fill="#41b6c4" d="M379.4 121.0L384.4 124.8L388.5 126.6L391.6 123.8L395.0 122.7L390.2 121.0L386.5 120.3ZM389.2 119.8L395.3 121.2L402.2 120.2L397.6 119.3L391.9 119.3ZM394.5 123.4L398.7 125.2L399.8 124.0L396.6 123.1Z"/>
<path fill="#41b6c4" d="M376.6 168.1L373.7 165.7L372.6 159.7L376.0 156.2L382.0 152.7L385.9 148.1L388.8 143.6L393.4 140.8L399.0 139.9L405.2 138.0L409.3 138.2L414.7 139.7L412.1 142.3L409.9 140.3L406.6 140.6L406.5 142.1L403.3 143.0L398.7 142.3L398.0 142.4L397.3 143.9L393.9 143.6L391.6 145.9L389.4 148.8L388.8 151.1L387.3 153.2L385.2 155.0L385.6 159.7L386.5 162.8L385.1 165.7L384.3 165.4L383.0 164.9L380.3 166.9Z"/>
<path fill="#ffffcc" d="M384.3 165.4L385.1 165.7L386.5 162.8L385.6 159.7L385.2 155.0L387.3 153.2L388.8 151.1L389.4 148.8L391.6 145.9L393.9 143.6L397.3 143.9L398.0 142.4L403.6 145.0L404.6 149.3L405.4 149.7L401.8 150.4L401.0 152.7L397.4 155.7L394.9 159.7L395.0 162.1L398.2 163.7L395.2 166.6L394.7 170.5L393.6 172.7L390.9 174.2L388.4 174.4L387.7 172.5L385.9 169.3Z"/>
<path fill="#c7e9b4" d="M398.0 142.4L398.7 142.3L403.3 143.0L406.5 142.1L406.6 140.6L409.9 140.3L412.1 142.3L411.7 144.3L414.5 145.4L413.3 147.2L415.7 149.9L415.8 152.7L417.6 154.3L419.9 156.4L417.0 159.7L414.5 162.1L409.5 162.8L405.9 163.7L402.9 161.8L401.6 157.3L403.3 155.5L407.8 151.5L405.4 149.7L404.6 149.3L403.6 145.0Z"/>
<path fill="#c7e9b4" d="M379.0 174.2L378.8 170.5L383.3 168.8L383.5 171.7L382.3 174.2L381.8 175.7L380.1 175.7ZM384.6 173.7L387.3 172.7L387.7 174.9L385.0 174.9ZM382.3 174.2L384.2 174.2L384.1 175.2L382.7 175.2Z"/>
<path fill="#ffffcc" d="M352.1 187.6L356.5 187.1L361.5 186.1L366.1 185.1L366.8 181.1L364.1 180.4L363.5 178.6L360.6 175.4L359.7 173.0L357.8 173.0L359.7 169.0L356.0 169.0L357.5 166.6L354.2 166.6L352.2 169.3L353.0 173.0L354.3 174.2L353.9 175.9L356.8 175.7L357.7 177.9L357.6 179.6L354.7 179.6L355.2 181.6L353.2 183.4L357.2 184.4L355.2 185.1ZM348.0 176.6L349.7 174.9L352.3 175.7L352.8 177.1L351.3 177.9L349.4 177.4Z"/>
<path fill="#ffffcc" d="M343.7 183.9L346.7 183.9L351.1 182.4L351.8 179.6L351.3 177.9L349.4 177.4L348.0 176.6L349.7 174.9L347.5 175.2L346.8 177.1L344.1 177.4L344.4 179.6L345.0 181.4L343.2 182.9Z"/>
<path fill="#ffffcc" d="M359.7 204.7L361.0 201.7L361.2 198.1L359.0 195.0L354.0 193.0L354.4 191.4L360.3 191.2L359.9 188.7L361.5 189.4L363.9 189.2L366.7 185.6L368.5 185.1L371.9 187.9L375.1 189.2L380.0 190.4L379.0 194.0L376.0 197.3L377.5 198.1L377.9 200.1L377.4 202.4L379.1 203.7L376.5 205.5L372.9 204.7L370.2 205.3L370.0 207.3L367.1 207.1L365.0 206.3ZM381.6 207.6L383.2 205.8L383.5 208.4L382.9 209.9Z"/>
<path fill="#c7e9b4" d="M359.7 204.7L365.0 206.3L367.1 207.1L370.0 207.3L370.2 208.6L365.2 211.5L363.1 214.8L363.9 216.6L362.0 219.8L359.2 221.9L353.8 222.1L351.4 223.9L349.9 222.4L347.6 220.8L348.1 218.2L348.6 215.9L347.5 214.3L348.9 213.0L349.1 210.9L350.4 209.4L349.6 208.5L346.2 208.6L345.0 208.6L344.1 205.8L346.8 204.0L352.0 204.2L356.2 204.5Z"/>
<path fill="#7fcdbb" d="M345.0 208.6L346.2 208.6L349.6 208.5L350.4 209.4L349.1 210.9L348.9 213.0L347.5 214.3L348.6 215.9L348.1 218.2L347.6 220.8L344.3 221.3L344.7 217.7L343.2 216.6L344.6 213.0Z"/>
<path fill="#ffffcc" d="M370.2 184.4L372.7 180.4L375.2 179.1L377.6 179.6L377.3 182.4L375.4 183.4L375.4 185.9L374.8 185.9L373.4 184.4Z"/>
<path fill="#ffffcc" d="M368.5 185.1L370.2 184.4L373.4 184.4L374.8 185.9L375.4 185.9L376.3 187.1L375.1 189.2L371.9 187.9Z"/>
<path fill="#ffffcc" d="M375.4 185.9L375.4 183.4L377.3 182.4L377.6 179.6L380.1 178.9L380.1 175.7L381.8 175.7L382.9 176.9L384.9 177.9L387.7 176.9L391.1 178.1L392.2 181.4L393.3 185.4L391.9 185.4L387.7 187.1L391.3 190.9L390.0 194.2L384.9 194.2L383.0 194.2L379.0 194.0L380.0 190.4L376.4 189.2L375.7 187.6L376.3 187.1Z"/>
<path fill="#ffffcc" d="M379.1 203.7L377.4 202.4L377.9 200.1L377.5 198.1L377.9 198.3L382.0 198.3L384.2 197.3L384.7 195.8L388.7 196.3L391.6 196.8L391.9 199.1L388.9 199.9L389.2 202.4L391.9 204.5L393.3 207.3L397.2 208.6L397.3 209.9L402.8 213.3L402.6 214.1L399.5 212.2L398.8 214.3L400.0 216.1L398.8 217.7L397.8 219.0L396.9 218.2L398.0 214.8L396.9 213.5L394.2 212.0L391.0 210.4L388.1 207.8L385.5 206.0L384.7 203.5L381.8 202.2ZM390.1 218.7L396.9 218.2L396.1 222.1L390.4 219.8ZM380.8 211.2L382.9 210.4L384.1 212.2L384.0 215.9L381.7 216.4L381.4 213.5Z"/>
<path fill="#ffffcc" d="M391.1 178.1L395.4 176.6L399.2 175.9L401.8 176.9L407.6 176.9L409.2 178.1L410.4 181.1L410.0 182.9L411.5 185.9L409.2 189.9L403.7 189.9L401.3 189.2L397.5 187.1L393.3 185.4L392.2 181.4Z"/>
<path fill="#c7e9b4" d="M391.5 199.3L395.0 199.3L395.5 197.6L397.3 196.8L399.5 198.3L402.1 198.3L403.5 200.1L402.8 200.9L398.4 200.1L396.1 200.1L396.2 201.4L397.1 202.7L400.3 205.8L402.3 207.3L399.0 205.8L395.1 202.7L394.3 200.6L393.0 200.1L392.3 201.1Z"/>
<path fill="#c7e9b4" d="M406.1 214.3L407.5 213.3L407.9 211.2L410.0 210.7L412.0 210.2L415.2 209.6L418.9 209.1L418.5 211.5L414.3 211.7L414.1 213.8L411.6 212.2L412.3 215.3L415.0 218.2L415.1 219.5L412.9 218.7L413.0 220.3L413.6 222.9L411.9 222.6L410.3 221.9L409.2 218.2L408.5 217.7L407.7 216.4ZM414.5 225.0L420.6 225.8L420.5 226.5L414.5 226.0Z"/>
<path fill="#ffffcc" d="M410.1 203.2L410.6 202.7L413.5 204.0L419.6 202.9L423.1 204.0L422.4 208.4L418.9 209.1L415.2 209.6L412.0 210.2L410.5 207.6L411.5 205.3Z"/>
<path fill="#ffffcc" d="M405.0 197.8L407.0 197.6L410.0 193.0L413.2 193.2L417.4 192.2L420.9 196.0L421.6 199.3L424.8 199.9L423.1 204.0L419.6 202.9L413.5 204.0L410.6 202.7L410.1 201.7L407.7 200.1Z"/>
<path fill="#c7e9b4" d="M403.7 172.7L410.9 172.0L414.4 173.7L413.3 177.1L409.2 178.1L407.6 176.9L407.4 175.4L404.4 174.8Z"/>
<path fill="#c7e9b4" d="M403.7 172.7L403.6 169.3L406.0 168.8L409.6 170.0L409.1 168.3L415.1 169.3L417.3 172.7L414.4 173.7L410.9 172.0Z"/>
<path fill="#c7e9b4" d="M409.1 168.3L407.3 166.4L406.9 165.2L411.2 164.2L415.3 164.5L414.6 166.4L415.1 169.3Z"/>
<path fill="#ffffcc" d="M433.7 226.5L435.1 225.5L438.5 224.7L437.4 226.5L435.4 227.6Z"/>
<path fill="#ffffcc" d="M394.2 223.9L395.1 224.2L394.7 224.5Z"/>
<path fill="#ffffcc" d="M448.4 230.7L452.8 228.1L453.1 227.1L454.8 220.8L460.0 220.8L461.8 223.9L463.7 226.3L462.6 229.2L464.5 231.8L468.7 234.9L468.8 237.2L470.9 239.6L469.5 239.6L468.4 239.3L466.7 241.9L462.7 241.7L456.1 236.7L452.4 234.6L449.2 234.1L449.6 233.6Z"/>
<path fill="#ffffcc" d="M466.7 241.9L468.4 239.3L469.8 239.9L471.1 243.5L469.1 243.5Z"/>
<path fill="#1d91c0" d="M461.0 275.1L461.9 274.3L462.2 272.2L466.3 272.5L469.8 272.7L470.5 273.5L473.0 270.4L474.7 269.4L481.5 268.3L484.4 274.3L482.6 277.2L476.6 279.5L474.8 281.4L472.1 282.7L467.6 284.0L466.5 284.8L463.1 285.0L462.3 283.2L461.5 279.3Z"/>
<path fill="#41b6c4" d="M484.4 274.3L481.5 268.3L488.1 265.7L489.2 260.5L487.9 258.6L487.8 257.6L488.3 255.5L489.4 255.0L489.0 252.9L490.1 252.9L491.4 254.7L495.6 256.3L498.4 259.2L497.7 261.8L495.9 264.7L494.4 265.2L494.4 268.6L491.5 271.2L489.3 272.0L488.2 273.5ZM489.1 250.0L489.9 249.3L489.9 251.1Z"/>
<path fill="#7fcdbb" d="M458.9 214.3L461.8 216.4L465.1 214.8L466.9 216.1L468.2 217.7L469.3 219.8L471.3 220.3L476.4 222.1L479.7 221.3L479.5 220.6L481.4 220.3L483.6 218.5L486.5 218.7L490.9 220.3L494.1 222.4L495.5 222.6L496.2 225.0L495.5 229.2L496.7 230.5L496.1 232.0L499.5 235.9L498.4 240.1L500.8 243.0L503.0 244.0L504.8 246.9L504.7 247.9L502.0 249.5L501.5 252.4L497.1 251.6L492.1 250.8L490.8 247.4L489.6 247.2L485.8 248.7L483.0 247.9L480.5 245.9L478.2 245.1L474.4 239.3L473.3 239.6L471.6 238.8L470.9 239.6L468.8 237.2L468.7 234.9L464.5 231.8L462.6 229.2L463.7 226.3L461.8 223.9L460.0 220.8L458.6 217.9L457.3 215.1Z"/>
<path fill="#ffffcc" d="M446.9 204.7L451.2 205.3L454.5 206.0L457.8 206.5L461.1 208.6L461.8 210.7L458.5 210.4L455.4 210.7L451.0 209.6L451.2 208.4L450.5 206.8Z"/>
<path fill="#c7e9b4" d="M128.7 141.2L135.2 142.8L141.8 141.4L151.9 139.9L154.9 141.7L162.5 140.8L170.4 142.8L170.6 144.3L176.7 145.0L181.6 143.4L186.2 143.9L190.1 145.2L196.9 145.2L201.2 144.1L204.3 141.4L207.3 137.1L210.7 136.0L212.0 139.3L212.6 142.5L215.1 143.6L214.8 146.3L221.3 141.0L227.3 140.8L226.1 143.6L222.9 147.0L218.4 148.6L214.4 149.3L211.6 150.9L209.4 152.7L204.2 153.8L198.6 156.6L192.9 159.7L188.9 163.3L187.4 166.4L188.4 170.5L193.1 170.5L197.4 173.0L200.2 174.7L205.2 175.2L203.0 180.4L203.8 182.9L203.8 184.9L206.1 184.1L208.7 181.6L210.8 176.6L216.5 173.0L219.3 169.3L217.3 166.1L221.5 162.1L223.0 157.8L230.2 157.8L232.8 159.7L235.8 160.9L234.3 165.7L236.5 166.9L240.6 166.1L245.1 162.6L246.7 169.3L247.0 173.0L251.6 175.9L253.9 180.4L253.6 182.9L250.7 184.1L243.6 187.4L235.7 187.1L230.6 187.4L225.5 190.4L221.0 194.2L218.4 196.0L226.3 190.9L232.7 189.9L233.5 191.7L230.4 193.7L231.2 195.5L232.0 198.1L238.0 198.8L240.9 196.0L240.2 198.1L237.7 199.9L232.0 201.7L225.9 204.5L226.3 201.9L230.6 199.3L225.1 200.4L224.0 198.8L225.2 195.3L222.6 194.5L220.3 196.3L219.0 198.3L215.7 200.6L209.1 200.6L204.6 202.7L198.8 204.5L198.2 206.0L190.0 208.4L189.3 207.6L191.2 205.8L194.1 199.9L192.0 198.1L190.5 196.8L185.2 192.5L181.9 193.0L179.0 192.7L171.8 190.4L115.6 190.4L115.7 189.7L114.2 186.6L111.1 184.1L113.0 180.4L111.7 177.1L111.6 176.2L115.3 173.0L113.7 170.5L114.7 166.4L113.3 164.0L107.9 165.7L107.5 163.3L104.6 162.6ZM114.0 191.9L110.4 190.7L108.0 186.1L110.8 185.9L113.3 187.9L114.3 190.9ZM105.1 182.9L104.6 179.9L105.5 177.6L107.8 177.9L105.6 180.4ZM242.9 194.0L247.5 194.2L250.1 195.8L255.1 196.3L256.3 194.2L255.3 191.7L255.0 189.4L251.8 187.9L253.6 184.1L250.2 185.4L247.0 189.2L243.2 193.0ZM234.3 188.1L238.9 189.4L239.0 190.2L235.8 189.7ZM232.0 196.3L236.5 197.0L235.1 198.1L232.6 197.6ZM244.3 158.5L240.4 157.3L235.8 154.3L232.3 152.7L226.1 152.7L229.3 150.4L235.4 150.4L238.3 147.0L240.5 144.8L237.0 143.6L234.8 140.8L231.8 140.3L224.1 140.6L221.3 139.9L217.8 138.2L220.8 132.9L227.7 132.3L229.1 134.3L235.4 132.5L240.3 134.3L243.4 136.7L247.3 138.2L250.8 140.3L251.2 142.5L255.0 144.8L257.2 147.0L257.5 148.1L253.7 150.4L250.2 150.4L246.7 148.8L250.6 153.2L247.3 156.2L242.8 154.5L246.1 158.5ZM170.2 139.0L171.3 141.9L178.4 143.2L187.4 142.5L194.3 141.4L193.2 138.2L195.5 134.3L191.6 133.5L183.6 135.0L175.5 134.3L169.9 137.1ZM161.4 136.0L162.4 138.0L167.5 137.1L172.4 135.0L179.1 133.3L182.4 131.2L176.7 131.4L172.8 130.8L166.9 132.3ZM183.2 128.8L186.8 130.8L195.4 130.2L200.9 128.2L198.6 126.4L190.5 126.8L184.6 127.8ZM202.5 129.4L211.4 129.8L215.1 127.2L210.5 126.6L204.9 127.4ZM198.6 136.0L204.1 137.1L208.7 133.9L207.6 131.8L201.8 132.9ZM209.1 136.0L213.2 136.0L220.4 132.5L215.9 131.4L211.3 132.9ZM196.7 142.5L201.8 143.4L203.9 141.9L201.7 140.6ZM220.1 130.4L230.6 130.8L238.8 130.4L240.6 128.4L232.6 127.2L227.2 126.6L223.1 126.8L218.3 126.4L220.2 128.8ZM226.9 126.8L241.7 127.2L247.8 124.8L253.4 122.9L263.2 120.2L278.3 116.0L268.3 115.1L254.5 115.2L238.3 117.1L232.8 119.3L237.8 121.0L233.2 123.8ZM227.1 119.3L233.5 121.0L235.0 122.9L226.9 122.9L224.8 121.0ZM210.8 122.9L216.4 124.2L221.3 122.7L217.1 121.4ZM177.5 127.4L185.1 127.4L189.7 125.2L184.3 124.8ZM209.5 153.8L213.6 155.7L219.8 154.3L221.7 152.7L217.6 149.7L213.6 150.4Z"/>
<path fill="#ffffcc" d="M115.6 190.4L171.8 190.4L179.0 192.7L181.9 193.0L185.2 192.5L190.5 196.8L192.0 198.1L194.1 199.9L191.2 205.8L189.3 207.6L190.0 208.4L198.2 206.0L198.8 204.5L204.6 202.7L209.1 200.6L215.7 200.6L219.0 198.3L220.3 196.3L222.6 194.5L225.2 195.3L224.0 198.8L225.1 200.4L224.7 201.7L217.7 204.0L215.3 206.3L216.1 209.1L212.7 209.9L206.8 211.7L205.8 214.8L202.5 215.3L202.9 217.4L199.7 221.3L199.1 225.2L195.8 227.8L193.2 229.4L189.3 231.8L185.3 234.9L183.4 238.3L184.4 244.0L184.8 247.9L183.5 251.9L181.6 252.4L180.5 249.3L179.0 245.3L179.9 242.2L177.6 239.3L174.1 240.1L170.0 238.8L166.6 239.1L164.9 241.7L161.6 241.7L155.7 240.4L152.7 241.7L147.4 245.3L145.7 250.0L141.7 248.7L140.0 243.5L138.7 240.1L134.8 242.2L131.9 240.4L129.1 235.0L125.4 235.0L125.0 236.2L118.8 236.2L111.5 233.1L106.5 233.1L104.9 229.2L101.0 227.8L100.3 222.4L100.4 219.2L99.7 214.8L99.7 212.8L102.3 208.4L105.7 203.2L109.1 197.6L111.2 191.9L114.6 192.7L113.9 194.7L116.3 190.9ZM128.7 141.2L104.6 162.6L107.5 163.3L107.9 165.7L113.3 164.0L114.7 166.4L113.7 170.5L115.3 173.0L111.6 176.2L110.7 174.9L109.7 171.7L111.2 168.1L107.9 167.6L107.0 165.7L105.0 164.0L100.2 163.3L96.3 162.6L90.9 163.3L91.4 161.1L82.7 164.9L84.9 162.1L78.2 165.7L72.4 169.3L63.1 171.7L54.3 174.7L47.9 176.2L44.5 176.6L52.4 173.7L59.3 171.7L66.6 168.6L70.6 166.1L66.9 166.6L61.5 166.4L65.2 163.3L61.7 161.6L62.8 159.2L69.6 155.9L77.0 155.0L80.0 152.7L73.8 152.7L72.7 150.9L71.0 150.2L80.7 148.1L85.1 147.4L83.8 145.9L83.2 143.9L91.8 141.4L102.6 138.6L108.3 137.5L114.1 138.6L119.4 139.5L124.9 140.3ZM73.1 168.6L77.8 168.1L75.6 169.8L71.5 171.0ZM9.6 268.3L12.4 267.0L12.0 265.7L10.5 265.2L9.7 266.7ZM9.1 263.3L10.7 263.3L9.9 264.1ZM6.1 261.8L7.3 261.5L6.9 262.3ZM3.1 260.2L4.1 260.0L3.7 260.7Z"/>
<path fill="#ffffcc" d="M152.9 279.8L153.1 278.0L154.5 275.9L157.2 275.9L155.5 273.0L156.6 271.4L160.8 271.4L160.1 276.4L162.1 276.9L159.5 280.3L157.5 282.0Z"/>
<path fill="#7fcdbb" d="M160.8 271.4L163.0 269.6L163.1 272.2L160.8 276.4L160.1 276.4Z"/>
<path fill="#7fcdbb" d="M157.5 282.0L159.5 280.3L162.7 282.9L162.4 283.6Z"/>
<path fill="#ffffcc" d="M159.5 280.3L162.1 276.9L167.4 276.4L171.9 276.7L173.6 278.7L169.8 279.5L165.3 281.9L163.7 284.0L162.7 282.9Z"/>
<path fill="#7fcdbb" d="M162.8 284.2L163.7 284.0L165.3 281.9L169.8 279.5L173.6 278.7L172.3 285.3L171.5 289.4L167.0 288.9Z"/>
<path fill="#ffffcc" d="M167.0 288.9L171.5 289.4L173.8 292.8L172.9 296.8L171.2 295.5L168.3 292.6L166.6 291.3Z"/>
<path fill="#41b6c4" d="M172.9 296.8L173.8 292.8L177.4 294.9L181.0 292.8L185.7 295.2L186.0 297.3L184.3 299.1L183.1 296.2L180.4 294.7L178.6 298.8L175.6 298.1Z"/>
<path fill="#7fcdbb" d="M185.6 270.1L190.1 270.7L189.6 271.2L186.6 271.4Z"/>
<path fill="#41b6c4" d="M187.6 252.4L189.0 252.4L189.1 254.7L187.8 255.8ZM187.0 248.2L189.7 247.9L189.3 248.7L186.9 248.7ZM190.4 247.7L191.4 248.5L190.9 250.3L190.3 249.5ZM191.6 251.6L192.7 253.2L192.1 253.7Z"/>
<path fill="#0c2c84" d="M254.8 123.3L259.0 121.6L258.0 120.8L266.8 119.1L272.0 118.2L278.1 116.9L287.0 116.6L296.5 116.2L299.0 115.2L303.5 114.5L310.0 114.1L316.2 113.8L325.0 114.0L333.2 114.8L330.4 116.3L338.0 116.5L345.2 117.2L340.0 118.5L337.4 119.1L335.5 120.0L336.5 120.6L334.3 121.2L334.8 123.0L333.6 124.0L334.2 125.0L333.9 126.1L332.6 128.0L333.0 129.0L331.8 130.4L329.5 132.0L330.0 133.0L326.8 135.3L327.6 136.8L327.1 138.1L325.0 139.5L323.3 140.2L320.0 141.2L316.2 142.4L311.0 143.6L306.4 144.9L302.5 146.5L299.3 148.0L295.5 150.0L292.2 152.2L289.0 155.0L286.6 157.9L284.5 160.5L282.4 162.8L280.2 162.1L277.0 161.4L274.6 160.0L272.8 157.8L271.8 155.1L270.6 152.0L270.1 149.4L270.4 147.5L271.3 145.9L274.0 143.8L277.4 142.4L277.6 141.2L272.5 140.2L272.8 138.9L277.0 137.4L273.2 136.0L273.8 133.8L274.6 131.8L273.6 130.2L273.2 128.9L272.0 127.6L270.4 126.8L264.0 126.9L257.6 126.8L258.2 125.6L255.6 125.0Z"/>
<path fill="#c7e9b4" d="M222.0 278.5L223.1 278.5L222.6 279.6Z"/>
<path fill="#7fcdbb" d="M223.0 281.0L224.1 281.0L223.6 282.1Z"/>
<path fill="#c7e9b4" d="M221.2 284.6L222.3 284.6L221.8 285.7Z"/>
<path fill="#41b6c4" d="M740.4 407.8L740.8 409.3L742.1 410.0L741.2 412.3L741.1 415.0L742.3 413.2L742.8 413.9L741.8 415.9L743.0 416.8L744.3 417.0L746.2 416.0L747.1 416.3L745.0 418.6L743.3 420.1L741.7 420.1L740.6 420.8L740.0 422.0L737.4 423.8L735.0 425.6L732.6 426.6L732.8 426.0L732.2 425.6L735.0 423.5L735.4 422.0L733.8 421.0L734.5 420.1L736.7 419.2L738.4 417.1L739.4 415.5L739.7 413.7L740.0 413.2L739.6 412.2L739.3 409.9L739.5 408.0ZM729.8 423.6L729.5 424.6L729.1 425.7L731.4 424.7L731.2 425.8L730.4 426.8L728.7 428.0L725.8 429.9L723.9 431.0L723.6 432.2L722.0 432.3L719.4 433.2L717.5 434.9L714.2 437.5L711.6 438.7L710.0 439.4L708.1 439.3L707.5 438.5L705.4 438.3L705.9 437.3L708.5 435.5L713.1 432.9L714.9 432.4L717.1 431.5L720.0 430.1L722.3 428.8L724.7 426.8L726.1 426.2L727.4 424.8ZM705.7 440.0L707.1 440.0L706.0 440.8Z"/>
<path fill="#41b6c4" d="M766.8 363.6L769.1 363.3L769.6 364.9L767.4 365.7L766.4 364.9ZM770.2 361.8L773.5 360.2L773.3 361.2L771.0 362.3Z"/>
<path fill="#41b6c4" d="M744.0 356.3L745.2 357.1L744.8 359.1L743.8 358.6ZM744.7 359.7L746.0 360.7L745.0 361.2ZM746.1 363.6L746.9 364.1L746.0 364.6Z"/>
<path fill="#225ea8" d="M727.0 299.5L728.2 299.5L727.6 300.6Z"/>
<path fill="#225ea8" d="M752.8 301.5L754.0 301.5L753.4 302.6Z"/>
<path fill="#7fcdbb" d="M737.8 303.8L738.9 303.8L738.3 304.8Z"/>
<path fill="#c7e9b4" d="M185.7 295.2L190.3 290.0L192.0 288.9L196.2 288.1L200.2 285.5L200.1 287.1L197.2 289.2L195.8 293.9L197.1 296.5L197.9 299.4L202.5 299.6L203.8 302.0L208.2 301.7L207.3 306.8L208.4 312.8L209.3 315.7L202.6 314.4L202.1 317.9L203.3 319.7L202.3 328.7L200.6 327.5L195.5 323.3L191.7 318.7L189.9 318.0L184.8 317.3L181.8 315.2L182.6 312.2L185.0 307.7L185.6 302.2L184.3 299.1L186.0 297.3Z"/>
<path fill="#41b6c4" d="M225.6 295.7L228.9 299.6L231.8 302.2L231.6 304.3L229.9 307.7L233.3 313.9L227.9 315.4L225.7 312.8L225.3 306.2L223.7 304.3L222.4 302.2Z"/>
<path fill="#1d91c0" d="M231.8 302.2L236.4 302.5L239.2 302.8L238.0 305.4L238.6 312.8L234.4 313.6L233.3 313.9L229.9 307.7L231.6 304.3Z"/>
<path fill="#7fcdbb" d="M181.8 315.2L184.8 317.3L189.9 318.0L189.4 320.9L184.2 325.1L182.7 329.6L180.4 331.0L178.5 326.3L177.0 322.7L177.9 318.5L179.0 316.5Z"/>
<path fill="#7fcdbb" d="M178.5 326.3L180.4 331.0L182.7 329.6L184.2 325.1L189.4 320.9L189.9 318.0L191.7 318.7L195.5 323.3L200.6 327.5L202.3 328.7L195.9 331.5L193.5 337.0L196.1 341.9L201.4 342.7L201.6 346.6L204.1 346.6L206.2 350.5L206.0 357.1L205.1 360.2L205.4 363.6L203.6 365.7L200.8 363.1L192.4 358.1L189.3 354.2L186.6 349.2L183.8 344.0L180.0 336.7L176.6 333.6L176.2 329.6Z"/>
<path fill="#ffffcc" d="M236.1 396.7L238.6 397.3L242.3 399.6L246.8 405.9L244.1 409.0L241.3 409.0L236.0 406.6L235.8 402.7Z"/>
<path fill="#7fcdbb" d="M212.0 377.4L216.4 375.6L218.6 377.4L222.3 375.8L228.6 380.5L234.4 384.5L232.7 388.9L239.0 389.4L241.0 387.6L241.2 384.7L243.4 388.9L239.3 391.5L236.1 396.7L235.8 402.7L236.0 406.6L239.4 410.6L241.0 413.2L239.6 417.6L231.1 419.7L231.6 424.3L226.1 424.9L229.9 428.7L228.5 435.2L224.8 437.7L229.6 441.6L225.9 449.2L228.9 453.7L221.7 452.9L219.5 449.7L216.3 446.6L217.0 441.6L214.9 433.9L211.7 424.9L211.5 418.4L211.2 413.2L211.2 406.6L208.2 400.1L208.7 394.9L210.6 387.1L209.9 381.8ZM228.9 454.7L237.6 459.6L235.5 460.4L231.3 460.1Z"/>
<path fill="#7fcdbb" d="M205.4 363.6L207.7 370.6L209.4 374.0L212.0 377.4L209.9 381.8L210.6 387.1L208.7 394.9L208.2 400.1L211.2 406.6L211.2 413.2L211.5 418.4L211.7 424.9L214.9 433.9L217.0 441.6L216.3 446.6L219.5 449.7L221.7 452.9L228.9 453.7L224.7 454.9L225.4 457.4L220.9 455.9L218.1 454.2L214.5 450.4L210.3 442.8L210.0 436.5L208.9 427.4L206.3 421.0L205.2 415.0L206.2 410.6L206.6 402.7L205.2 396.2L205.5 384.5L205.1 375.3L204.6 368.8L203.6 365.7ZM228.9 454.7L231.3 460.1L229.3 461.6L224.3 459.2L218.7 455.4L225.7 457.9L225.8 455.2Z"/>
<path fill="#c7e9b4" d="M221.5 290.0L223.6 289.7L223.5 291.5L221.4 291.5Z"/>
<path fill="#7fcdbb" d="M498.4 240.1L502.2 241.4L505.7 241.4L510.3 239.9L511.0 236.2L514.5 235.2L515.9 234.6L517.3 231.0L516.1 229.2L518.7 228.1L518.1 223.2L518.8 221.9L524.3 221.3L527.3 222.1L532.3 225.2L530.9 227.3L528.6 227.8L525.0 227.3L525.2 231.8L526.6 232.3L528.9 233.6L527.3 235.2L527.7 237.0L526.2 239.6L525.2 242.5L523.4 245.1L520.7 244.8L518.7 247.7L520.4 248.7L521.0 250.8L522.3 252.1L523.0 254.2L518.1 254.2L516.9 256.0L515.1 255.5L512.3 251.6L508.2 252.1L504.6 252.1L501.5 252.4L502.0 249.5L504.7 247.9L504.8 246.9L503.0 244.0L500.8 243.0Z"/>
<path fill="#7fcdbb" d="M516.9 256.0L518.1 254.2L523.0 254.2L522.3 252.1L521.0 250.8L520.4 248.7L518.7 247.7L520.7 244.8L523.4 245.1L525.2 242.5L526.2 239.6L527.7 237.0L527.3 235.2L528.9 233.6L526.6 232.3L525.2 231.8L525.0 227.3L528.6 227.8L530.9 227.3L532.3 225.2L535.5 228.4L535.8 230.5L537.0 231.8L537.3 233.1L535.7 232.8L536.9 235.7L539.4 237.2L542.9 239.1L541.5 242.7L549.3 246.4L552.5 246.9L554.1 248.2L560.5 249.0L559.7 245.1L561.2 244.6L561.6 246.6L564.2 248.2L569.3 247.9L568.9 246.1L567.8 245.3L569.5 245.1L571.1 243.2L573.4 241.4L575.3 242.2L576.6 240.9L578.1 242.7L580.0 244.0L580.5 245.1L580.3 247.2L578.6 246.6L576.1 248.5L576.6 250.0L575.7 252.1L575.1 255.5L573.3 255.0L573.4 258.6L573.8 259.7L572.7 260.5L570.8 256.3L570.3 256.3L570.1 257.9L568.8 256.6L569.2 255.0L570.3 255.0L570.8 252.6L565.1 251.9L564.5 250.0L561.6 249.0L561.0 250.6L562.9 252.1L561.7 252.9L561.4 254.0L562.9 254.7L563.8 258.1L564.3 260.2L564.3 261.3L562.7 261.3L560.0 261.8L560.3 263.9L559.4 265.3L556.4 267.0L554.1 270.1L552.7 271.7L550.6 273.5L550.7 274.6L546.6 276.4L546.1 278.5L546.9 281.9L547.3 284.0L546.5 286.3L546.8 290.8L545.5 291.0L544.7 293.1L545.4 293.9L543.4 294.7L542.5 296.2L541.7 297.0L539.5 294.7L537.1 288.4L535.0 284.8L533.4 279.8L531.1 276.1L528.6 267.8L528.3 264.7L527.5 262.0L524.5 263.6L522.9 263.3L519.7 260.2L520.5 259.2L519.7 258.4Z"/>
<path fill="#7fcdbb" d="M564.3 260.2L563.8 258.1L562.9 254.7L561.4 254.0L561.7 252.9L562.9 252.1L561.0 250.6L561.6 249.0L564.5 250.0L565.1 251.9L570.8 252.6L570.3 255.0L569.2 255.0L568.8 256.6L570.1 257.9L570.3 256.3L570.8 256.3L572.7 260.5L572.9 262.3L572.0 261.8L572.5 263.9L571.7 262.6L571.3 261.3L570.6 260.0L569.5 258.4L567.5 258.4L567.8 259.4L567.4 261.0L566.2 260.5L566.0 260.7L565.3 260.5Z"/>
<path fill="#41b6c4" d="M546.7 296.5L547.3 300.2L548.3 302.2L550.4 301.7L551.6 298.3L550.3 295.5L549.1 293.6L547.4 292.3Z"/>
<path fill="#225ea8" d="M532.3 306.5L533.3 306.5L532.8 308.3Z"/>
<path fill="#1d91c0" d="M572.5 263.9L572.0 261.8L572.9 262.3L572.7 260.5L573.8 259.7L573.4 258.6L573.3 255.0L575.1 255.5L575.7 252.1L576.6 250.0L576.1 248.5L580.3 247.2L580.5 245.1L580.0 244.0L581.3 244.0L582.4 245.6L583.6 246.1L584.1 248.2L584.5 250.3L582.7 252.4L583.0 255.5L585.4 255.0L586.3 257.6L587.7 258.1L587.4 260.2L590.3 261.5L592.2 262.0L590.1 264.7L588.8 265.2L587.7 266.3L586.1 266.5L585.5 269.4L584.7 269.9L586.0 272.0L587.8 274.0L588.9 275.6L588.3 278.0L587.7 278.5L588.3 279.8L590.1 281.9L590.4 283.2L590.6 284.5L591.7 286.8L590.5 289.3L589.7 292.1L589.5 290.0L590.0 288.1L588.9 286.6L588.9 283.7L587.9 282.4L586.8 279.3L586.0 275.9L584.8 273.8L583.4 275.1L581.1 276.9L579.7 276.7L578.3 276.1L578.5 272.7L577.7 270.4L575.5 267.3L575.8 266.5L574.4 266.0Z"/>
<path fill="#7fcdbb" d="M590.1 264.7L591.1 265.4L591.6 267.0L593.1 267.0L592.9 269.9L593.5 272.2L595.5 270.7L596.3 271.2L597.6 270.9L599.7 270.1L601.7 272.5L602.3 275.1L604.4 277.2L604.4 279.5L603.9 280.6L601.8 280.3L598.9 280.8L597.5 282.9L598.5 286.1L596.4 285.0L594.3 285.0L594.5 282.9L592.5 282.9L592.5 285.8L591.4 293.9L593.0 293.9L594.0 296.2L594.6 298.6L595.9 299.9L597.3 300.4L598.5 301.7L597.8 302.8L596.3 303.0L596.2 301.7L594.2 300.6L593.8 301.0L592.9 300.0L592.3 298.8L591.1 297.3L589.9 296.0L589.5 297.5L589.1 296.1L589.2 294.5L589.7 292.1L590.5 289.3L591.7 286.8L590.6 284.5L590.4 283.2L590.1 281.9L588.3 279.8L587.7 278.5L588.3 278.0L588.9 275.6L587.8 274.0L586.0 272.0L584.7 269.9L585.5 269.4L586.1 266.5L587.7 266.3L588.8 265.2Z"/>
<path fill="#41b6c4" d="M594.0 259.2L595.0 258.6L596.8 258.6L599.0 258.4L600.6 257.0L601.9 257.9L604.0 258.4L604.0 260.0L605.2 261.0L607.6 261.7L604.9 263.9L603.5 266.3L603.2 268.1L605.3 270.9L608.0 274.3L610.3 275.9L612.0 278.0L613.5 282.9L613.8 287.4L612.1 289.2L609.5 290.9L607.8 293.1L605.2 295.5L604.2 293.8L604.7 292.1L602.9 290.5L604.8 289.4L607.2 289.3L606.0 287.7L609.7 285.8L609.6 282.7L608.9 280.8L609.0 278.2L608.2 276.4L606.3 274.6L602.1 269.1L599.1 267.5L599.7 266.7L600.9 266.0L599.7 263.7L596.9 263.6L595.5 261.3Z"/>
<path fill="#41b6c4" d="M598.5 286.1L597.5 282.9L598.9 280.8L601.8 280.3L603.9 280.6L605.8 281.6L606.8 279.8L608.9 280.8L609.6 282.7L609.7 285.8L606.0 287.7L607.2 289.3L604.8 289.4L602.9 290.5L600.9 290.2L599.9 288.8Z"/>
<path fill="#41b6c4" d="M593.8 301.0L594.2 300.6L596.2 301.7L596.3 303.0L597.8 302.8L598.5 301.7L599.2 302.0L600.6 303.5L601.6 305.2L601.7 307.1L601.5 308.6L601.8 311.3L602.9 312.2L603.8 314.7L603.7 315.4L602.1 315.7L600.0 313.6L597.2 311.4L596.9 309.8L595.5 308.0L595.1 305.5L594.2 304.1L594.3 302.1ZM616.3 313.6L618.0 314.5L619.8 314.0L620.2 311.6L621.2 311.0L623.9 310.4L625.4 308.0L626.5 306.2L627.4 305.1L629.3 303.7L630.9 302.0L632.0 299.9L632.9 299.9L634.1 301.2L634.4 302.3L637.9 303.8L637.8 304.8L636.1 304.8L636.7 306.2L635.1 307.4L633.0 306.8L630.5 306.8L629.7 310.1L628.8 311.3L627.7 315.2L625.9 315.7L623.7 314.9L622.6 315.2L621.3 316.3L619.8 316.2L618.3 316.6L616.7 315.3Z"/>
<path fill="#41b6c4" d="M582.9 303.5L588.0 304.3L590.2 306.8L591.8 308.9L595.4 313.3L597.9 313.3L599.8 315.2L601.2 317.0L602.9 317.8L601.9 319.1L603.3 319.8L604.2 319.9L604.4 321.6L605.3 323.1L606.9 323.3L608.0 325.3L607.3 329.0L607.0 333.2L604.5 333.2L602.7 331.1L599.8 328.8L598.9 326.9L597.2 324.5L596.1 322.3L594.4 319.0L592.4 317.6L591.7 316.0L590.8 314.1L588.7 312.3L587.4 309.8L585.6 308.1L583.1 304.9ZM605.9 335.8L607.6 333.3L610.4 333.4L612.2 334.5L613.2 334.6L613.4 335.6L617.8 335.9L618.4 334.8L622.5 336.0L623.3 337.7L626.7 338.2L626.7 340.7L624.3 339.7L622.2 339.8L619.8 339.6L617.7 339.1L615.1 338.1L613.4 337.8L612.5 338.2L608.3 337.1L608.0 336.0ZM635.1 307.4L633.8 310.1L635.6 312.8L635.2 314.1L637.9 316.3L635.1 316.6L634.4 317.8L634.4 319.3L632.2 320.8L632.1 323.6L631.1 328.2L630.8 327.1L628.1 328.4L627.3 326.6L625.6 326.4L624.5 325.5L621.7 326.6L620.9 325.1L619.4 325.3L617.5 324.9L617.3 321.1L616.1 320.4L615.0 318.6L614.7 317.3L615.0 315.3L616.3 313.6L616.7 315.3L618.3 316.6L619.8 316.2L621.3 316.3L622.6 315.2L623.7 314.9L625.9 315.7L627.7 315.2L628.8 311.3L629.7 310.1L630.5 306.8L633.0 306.8ZM640.3 317.0L642.2 315.4L644.0 316.1L646.9 316.4L649.6 316.3L651.8 314.6L652.2 315.1L650.4 317.2L648.7 317.6L646.5 317.2L642.6 317.3L640.6 317.6L640.3 318.7L642.3 320.6L643.6 319.6L647.9 318.9L647.7 319.9L646.7 319.5L645.7 320.9L643.6 321.9L645.7 325.7L645.2 326.7L647.2 330.1L647.1 331.8L645.8 332.6L645.0 331.7L646.2 329.5L643.9 330.6L643.3 329.8L643.7 328.7L642.1 326.9L642.3 324.0L640.8 324.9L640.8 328.4L640.8 332.3L639.3 332.7L638.3 331.9L639.1 329.5L638.8 326.6L637.9 326.6L637.2 324.5L638.2 322.6L638.6 320.5L639.8 317.7ZM688.5 323.9L687.4 341.7L685.6 339.6L683.3 339.0L682.7 339.8L679.8 339.9L680.9 337.7L682.4 337.0L682.0 334.2L681.1 332.0L676.7 329.7L674.8 329.5L671.5 326.7L670.7 328.2L669.8 328.5L669.4 327.4L669.4 326.0L667.7 324.6L670.2 323.5L671.8 323.6L671.7 322.8L668.3 322.8L667.4 321.2L665.4 320.7L664.4 319.5L667.6 319.1L668.8 318.5L672.4 319.2L672.8 320.0L673.3 324.4L675.6 326.2L677.6 323.1L680.3 321.4L682.4 321.4L684.3 322.3L686.0 323.3ZM646.9 344.8L649.0 344.3L650.6 342.4L649.2 341.9L647.2 343.7ZM639.0 340.9L640.9 339.4L642.3 340.1L646.0 339.0L645.6 340.5L642.1 341.2ZM631.6 341.4L632.4 339.8L634.5 339.0L636.8 339.6L636.9 340.6L634.4 341.1ZM629.7 339.6L631.5 339.6L631.2 341.1L629.8 340.9ZM626.7 339.0L629.2 339.3L628.2 340.9ZM636.8 342.4L639.1 342.2L640.8 344.0L638.9 344.8L636.7 343.5ZM658.2 326.3L658.7 324.7L661.7 324.5L664.2 325.4L664.8 327.7L663.0 326.5L661.1 326.2L659.8 326.4ZM653.9 325.7L656.2 325.4L656.6 326.6L655.9 327.5L654.3 326.9ZM657.2 316.1L657.6 314.2L658.5 313.1L660.0 314.9L660.2 315.9L658.9 317.3L660.7 317.5L658.7 318.3L658.4 319.5L658.0 318.3ZM664.7 338.0L666.4 336.7L666.0 338.8L664.9 338.8ZM672.1 333.8L673.6 332.8L673.4 335.1L672.2 335.9Z"/>
<path fill="#7fcdbb" d="M626.5 306.2L627.4 305.1L629.3 303.7L629.1 306.8L628.2 306.8Z"/>
<path fill="#41b6c4" d="M637.4 269.6L638.9 269.6L641.0 269.6L641.9 273.5L642.6 275.4L640.8 276.4L641.6 280.6L643.0 280.8L646.8 281.9L647.9 285.0L645.7 284.0L644.2 283.4L640.5 282.4L639.1 280.8L639.7 280.1L637.7 279.0L636.7 275.1L637.8 276.1L637.3 272.0ZM654.0 296.0L654.5 299.1L653.9 301.5L652.8 298.8L652.0 300.2L652.2 303.3L649.3 301.7L648.5 299.9L649.1 298.6L647.7 297.5L647.1 298.6L645.9 298.3L644.4 299.9L643.9 299.1L644.7 297.0L646.0 296.2L647.3 295.2L648.1 296.5L649.8 295.7L650.2 294.4L651.8 294.4L651.4 292.3L653.3 293.6ZM648.1 285.3L650.4 285.3L652.0 289.2L650.1 288.4L649.7 287.1ZM648.4 288.1L650.1 288.7L650.8 291.0L649.9 291.5ZM642.8 286.8L645.6 287.6L645.6 289.2L643.4 290.8L643.1 289.2ZM644.5 292.6L646.3 294.1L646.8 289.4L645.4 289.4ZM646.7 293.4L647.8 288.7L648.1 291.0ZM632.9 296.0L633.9 294.4L636.6 290.8L637.4 288.1L637.0 290.5L635.3 292.6ZM638.7 282.7L640.7 282.9L641.7 285.0L641.1 286.1L640.1 284.8Z"/>
</g>
<g id="legend">
<rect x="186.5" y="537.5" width="47" height="11" fill="url(#h)" stroke="#c4c4c4" stroke-width="0.7"/>
<text x="210" y="530" text-anchor="middle">No data</text>
<line x1="210" y1="534" x2="210" y2="537.5" stroke="#c8c8c8" stroke-width="0.8"/>
<rect x="253.5" y="537.5" width="58.6" height="11" fill="#ffffcc" stroke="#aaa" stroke-width="0.5"/><line x1="253.5" y1="534" x2="253.5" y2="537.5" stroke="#c8c8c8" stroke-width="0.8"/><text x="253.5" y="530" text-anchor="middle">0%</text><rect x="312.1" y="537.5" width="58.6" height="11" fill="#c7e9b4" stroke="#aaa" stroke-width="0.5"/><line x1="312.1" y1="534" x2="312.1" y2="537.5" stroke="#c8c8c8" stroke-width="0.8"/><text x="312.1" y="530" text-anchor="middle">0.03%</text><rect x="370.7" y="537.5" width="58.6" height="11" fill="#7fcdbb" stroke="#aaa" stroke-width="0.5"/><line x1="370.7" y1="534" x2="370.7" y2="537.5" stroke="#c8c8c8" stroke-width="0.8"/><text x="370.7" y="530" text-anchor="middle">0.1%</text><rect x="429.3" y="537.5" width="58.6" height="11" fill="#41b6c4" stroke="#aaa" stroke-width="0.5"/><line x1="429.3" y1="534" x2="429.3" y2="537.5" stroke="#c8c8c8" stroke-width="0.8"/><text x="429.3" y="530" text-anchor="middle">0.3%</text><rect x="487.9" y="537.5" width="58.6" height="11" fill="#1d91c0" stroke="#aaa" stroke-width="0.5"/><line x1="487.9" y1="534" x2="487.9" y2="537.5" stroke="#c8c8c8" stroke-width="0.8"/><text x="487.9" y="530" text-anchor="middle">1%</text><rect x="546.5" y="537.5" width="58.6" height="11" fill="#225ea8" stroke="#aaa" stroke-width="0.5"/><line x1="546.5" y1="534" x2="546.5" y2="537.5" stroke="#c8c8c8" stroke-width="0.8"/><text x="546.5" y="530" text-anchor="middle">3%</text><path d="M605.1 537.5H659L664 543L659 548.5H605.1Z" fill="#0c2c84" stroke="#aaa" stroke-width="0.5"/><line x1="605.1" y1="534" x2="605.1" y2="537.5" stroke="#c8c8c8" stroke-width="0.8"/><text x="605.1" y="530" text-anchor="middle">10%</text>
</g>
</svg>
</body></html>
